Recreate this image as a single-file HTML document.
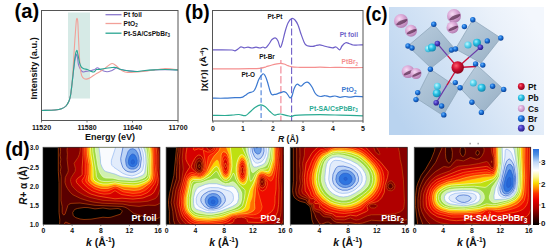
<!DOCTYPE html>
<html><head><meta charset="utf-8"><style>
html,body{margin:0;padding:0;background:#fff;width:550px;height:251px;overflow:hidden}
svg{display:block;font-family:"Liberation Sans",sans-serif}
</style></head><body>
<svg width="550" height="251" viewBox="0 0 550 251"><defs><clipPath id="hc0"><rect x="43" y="147.2" width="117" height="77.4"/></clipPath><clipPath id="hc1"><rect x="166.1" y="147.2" width="117.6" height="77.4"/></clipPath><clipPath id="hc2"><rect x="290.2" y="147.2" width="117.2" height="77.4"/></clipPath><clipPath id="hc3"><rect x="414.2" y="147.2" width="116.6" height="77.4"/></clipPath><linearGradient id="cb" x1="0" y1="1" x2="0" y2="0"><stop offset="0.000" stop-color="#000000"/><stop offset="0.097" stop-color="#460000"/><stop offset="0.221" stop-color="#aa0000"/><stop offset="0.331" stop-color="#e80000"/><stop offset="0.414" stop-color="#fc3200"/><stop offset="0.483" stop-color="#ff8c00"/><stop offset="0.552" stop-color="#fadc00"/><stop offset="0.635" stop-color="#fcf596"/><stop offset="0.718" stop-color="#ffffff"/><stop offset="0.829" stop-color="#bed7f8"/><stop offset="0.925" stop-color="#5091e4"/><stop offset="1.000" stop-color="#286edc"/></linearGradient></defs>
<text x="14.6" y="18.3" font-family="Liberation Sans, sans-serif" font-weight="bold" font-size="21" textLength="24.6" lengthAdjust="spacingAndGlyphs">(a)</text>
<rect x="68" y="12.5" width="22" height="86" fill="#d6eae6"/>
<path d="M41.5 110.5C43.8 110.4 51.7 110.3 55 110C58.3 109.7 59.7 109.5 61.5 108.8C63.3 108.1 64.8 107.3 66 106C67.2 104.7 68.2 102.8 69 101C69.8 99.2 70.1 97.8 70.6 95C71.1 92.2 71.5 88 72 84C72.5 80 73 75 73.5 71C74 67 74.5 62.8 75 60C75.5 57.2 76 54.6 76.4 54.3C76.8 54 77.1 56.2 77.5 58C77.9 59.8 78 63 78.6 65.1C79.2 67.2 80.5 69.4 81.2 70.5C81.9 71.6 82.2 71.8 83 71.9C83.8 72.1 84.4 71.6 85.7 71.4C87 71.2 89.5 70.8 91 70.5C92.5 70.2 93.6 70 94.7 69.6C95.8 69.1 96.4 67.7 97.4 67.8C98.5 67.9 99.4 69.3 101 70C102.6 70.7 105.2 71.7 107 71.8C108.8 71.9 110.4 71.1 112 70.5C113.6 69.9 115 68.2 116.5 68C118 67.8 119.1 69 121 69.5C122.9 70 124.8 70.5 128 70.8C131.2 71.1 136.3 71.6 140 71.5C143.7 71.4 146.7 70.6 150 70.3C153.3 70 156.7 69.9 160 69.8C163.3 69.7 167 69.8 170 69.8C173 69.8 176.7 70 178 70" fill="none" stroke="#8a78cc" stroke-width="1.1" stroke-linejoin="round"/>
<path d="M41.5 110.5C43.8 110.4 51.7 110.3 55 110C58.3 109.7 59.7 109.5 61.5 108.8C63.3 108.1 64.8 107.3 66 106C67.2 104.7 68.2 102.8 69 101C69.8 99.2 70.1 97.8 70.6 95C71.1 92.2 71.5 89.5 72 84C72.5 78.5 73 69.7 73.5 62C74 54.3 74.5 44.7 75 38C75.5 31.3 75.9 25.3 76.2 22C76.5 18.7 76.7 18.4 77 18.4C77.3 18.4 77.5 18.4 77.8 22C78.1 25.6 78.3 34 78.6 40C78.9 46 79.2 53.2 79.5 58C79.8 62.8 79.9 65.7 80.3 68.7C80.7 71.7 81.2 74.2 81.8 75.9C82.4 77.6 83.2 78.1 84 78.6C84.8 79.1 85.6 79.2 86.6 79.1C87.6 78.9 88.7 78.5 90.2 77.7C91.7 76.9 93.8 75.2 95.6 74.1C97.4 73 99.3 72.1 101 71C102.7 69.9 104.2 68.8 106 67.5C107.8 66.2 110.2 63.7 112 63.5C113.8 63.3 115.5 65.4 117 66.5C118.5 67.6 119.7 69.1 121 70C122.3 70.9 123.3 71.6 125 72C126.7 72.4 128.5 72.5 131 72.5C133.5 72.5 136.8 72.1 140 71.8C143.2 71.5 147 70.9 150 70.5C153 70.1 155.5 69.8 158 69.5C160.5 69.2 162.7 68.6 165 68.5C167.3 68.4 169.8 68.8 172 69C174.2 69.2 177 69.7 178 69.8" fill="none" stroke="#f2a098" stroke-width="1.1" stroke-linejoin="round"/>
<path d="M41.5 110.5C43.8 110.4 51.7 110.3 55 110C58.3 109.7 59.7 109.5 61.5 108.8C63.3 108.1 64.8 107.3 66 106C67.2 104.7 68.2 102.8 69 101C69.8 99.2 70.1 97.8 70.6 95C71.1 92.2 71.5 88.2 72 84C72.5 79.8 73 74.5 73.5 70C74 65.5 74.5 60.3 75 57C75.5 53.7 76.3 50.7 76.8 50.4C77.3 50.1 77.5 53 78 55C78.5 57 79 60.4 79.5 62.4C80 64.4 80.5 65.9 81.2 66.9C82 68 83 68.2 84 68.7C85 69.2 86.3 69.1 87.5 69.6C88.7 70 90 71 91 71.4C92 71.8 92.9 72.3 93.8 72C94.7 71.7 95.6 70 96.5 69.6C97.4 69.2 97.6 69.7 99 69.5C100.4 69.3 102.8 68.8 105 68.5C107.2 68.2 110.2 67.7 112 67.5C113.8 67.3 114.5 67.2 116 67.5C117.5 67.8 119 69 121 69.5C123 70 125.7 70.5 128 70.8C130.3 71.1 132.2 71.5 135 71.5C137.8 71.5 141.7 70.8 145 70.5C148.3 70.2 151.7 70 155 69.8C158.3 69.6 161.2 69.5 165 69.5C168.8 69.5 175.8 69.9 178 70" fill="none" stroke="#2aa592" stroke-width="1.1" stroke-linejoin="round"/>
<rect x="41.5" y="10.5" width="136.5" height="110" fill="none" stroke="#555" stroke-width="1"/>
<line x1="41.5" y1="120.5" x2="41.5" y2="122.5" stroke="#555" stroke-width="0.8"/>
<line x1="87" y1="120.5" x2="87" y2="122.5" stroke="#555" stroke-width="0.8"/>
<line x1="132.5" y1="120.5" x2="132.5" y2="122.5" stroke="#555" stroke-width="0.8"/>
<line x1="178" y1="120.5" x2="178" y2="122.5" stroke="#555" stroke-width="0.8"/>
<line x1="105.5" y1="14.7" x2="121.5" y2="14.7" stroke="#8a78cc" stroke-width="1.3"/>
<text x="123.5" y="17.099999999999998" font-family="Liberation Sans, sans-serif" font-weight="bold" font-size="6.6" fill="#111">Pt foil</text>
<line x1="105.5" y1="23.5" x2="121.5" y2="23.5" stroke="#f2a098" stroke-width="1.3"/>
<text x="123.5" y="25.9" font-family="Liberation Sans, sans-serif" font-weight="bold" font-size="6.6" fill="#111">PtO<tspan font-size="4.5" dy="1.5">2</tspan></text>
<line x1="105.5" y1="33.2" x2="121.5" y2="33.2" stroke="#2aa592" stroke-width="1.3"/>
<text x="123.5" y="35.6" font-family="Liberation Sans, sans-serif" font-weight="bold" font-size="6.6" fill="#111">Pt-SA/CsPbBr<tspan font-size="4.5" dy="1.5">3</tspan></text>
<text x="41.5" y="130.4" font-family="Liberation Sans, sans-serif" font-weight="bold" font-size="7" text-anchor="middle" fill="#111">11520</text>
<text x="87" y="130.4" font-family="Liberation Sans, sans-serif" font-weight="bold" font-size="7" text-anchor="middle" fill="#111">11580</text>
<text x="132.5" y="130.4" font-family="Liberation Sans, sans-serif" font-weight="bold" font-size="7" text-anchor="middle" fill="#111">11640</text>
<text x="178" y="130.4" font-family="Liberation Sans, sans-serif" font-weight="bold" font-size="7" text-anchor="middle" fill="#111">11700</text>
<text x="110" y="139.5" font-family="Liberation Sans, sans-serif" font-weight="bold" font-size="9" text-anchor="middle" fill="#111">Energy (eV)</text>
<text transform="translate(36.8 68.4) rotate(-90)" font-family="Liberation Sans, sans-serif" font-weight="bold" font-size="9.2" text-anchor="middle" fill="#111">Intensity (a.u.)</text>
<text x="185" y="18.9" font-family="Liberation Sans, sans-serif" font-weight="bold" font-size="21" textLength="24.6" lengthAdjust="spacingAndGlyphs">(b)</text>
<line x1="261.1" y1="67.4" x2="261.1" y2="121" stroke="#4a7fd8" stroke-width="1.1" stroke-dasharray="5 2.6"/>
<line x1="280.9" y1="60" x2="280.9" y2="121" stroke="#f08090" stroke-width="1.1" stroke-dasharray="3.7 2.5 7.4 2.5 7.4 2.5 7.4 2.5 7.4 2.5 7.4 2.5 7.4 2.5"/>
<line x1="291.6" y1="19" x2="291.6" y2="121" stroke="#7060c8" stroke-width="1.1" stroke-dasharray="7 2.6"/>
<path d="M212.5 49.8C214.1 49.8 218.8 49.8 222 49.8C225.2 49.8 229.8 49.8 232 50C234.2 50.2 234 51 235 50.8C236 50.6 237 49.7 238 49C239 48.3 239.9 47 240.9 46.8C241.9 46.6 242.8 47.7 244 47.8C245.2 47.9 246.7 47.2 248 47.2C249.3 47.2 250.7 48 252 48C253.3 48 254.7 47.2 256 47.2C257.3 47.2 258.8 48 260 48C261.2 48 262.1 47 263 47C263.9 47 264.7 48.3 265.7 47.8C266.7 47.3 267.9 45.4 269 44C270.1 42.6 270.9 40.5 272 39.5C273.1 38.5 274.3 37.6 275.3 37.9C276.3 38.1 277.2 39.4 278 41C278.8 42.6 279.6 47.2 280.3 47.4C281.1 47.6 281.7 44.6 282.5 42C283.3 39.4 284.1 35.2 285 32C285.9 28.8 286.9 25.2 288 23C289.1 20.8 290.4 19.1 291.6 18.6C292.8 18.1 293.9 18.9 295 20C296.1 21.1 297 22.7 298 25C299 27.3 300 31.2 301 34C302 36.8 303.2 40.2 304 42C304.8 43.8 305.2 44.3 306 45C306.8 45.7 307.8 46 309 46.2C310.2 46.4 311.8 46.5 313 46.4C314.2 46.3 314.9 45.8 316 45.5C317.1 45.2 318.5 44.7 319.8 44.8C321.1 44.9 322.6 45.6 324 46C325.4 46.4 326.6 46.7 328 47C329.4 47.3 331.4 47.8 332.7 47.8C334 47.8 334.8 46.7 336 47C337.2 47.3 338.7 50 339.7 49.8C340.7 49.6 341 47.2 342 46C343 44.8 344.5 43.2 345.7 42.8C346.9 42.4 347.8 43.1 349 43.5C350.2 43.9 351.5 44.8 353 45C354.5 45.2 356.3 45 358 45C359.7 45 362.2 44.8 363 44.8" fill="none" stroke="#6e5fc8" stroke-width="1.2" stroke-linejoin="round"/>
<path d="M212.5 68.9C215.4 68.9 223.8 68.9 230 68.9C236.2 68.9 245 68.8 250 68.7C255 68.6 257.1 68.6 259.8 68.3C262.5 68 264 67.3 266 66.8C268 66.2 270.2 65.5 272 65C273.8 64.5 275.6 64.1 277 63.8C278.4 63.5 279.5 63.3 280.7 63.3C281.9 63.3 282.8 63.6 284 64C285.2 64.4 286.7 65.1 288 65.6C289.3 66.1 290 66.6 292 66.9C294 67.2 297 67.2 300 67.3C303 67.4 306.7 67.4 310 67.4C313.3 67.4 316.7 67.2 320 67.2C323.3 67.2 326.7 67.5 330 67.5C333.3 67.5 336.7 67.4 340 67.4C343.3 67.4 346.2 67.6 350 67.6C353.8 67.6 360.8 67.5 363 67.5" fill="none" stroke="#f59090" stroke-width="1.2" stroke-linejoin="round"/>
<path d="M212.5 98.2C214.6 98.2 221.2 98.3 225 98.2C228.8 98.1 232.2 97.7 235 97.6C237.8 97.5 239.8 97.8 241.5 97.4C243.2 97.1 243.8 96.2 245 95.5C246.2 94.8 247.3 93.7 248.7 93C250.1 92.3 252.2 92.4 253.4 91.4C254.6 90.4 255.1 89.1 256 87C256.9 84.9 257.9 81.2 259 79C260.1 76.8 261.7 74.5 262.7 73.9C263.7 73.3 264.2 74.2 265 75.5C265.8 76.8 266.7 79.4 267.5 82C268.3 84.6 269.3 88.9 270 91C270.7 93.1 271.1 94 271.8 94.6C272.6 95.2 273.6 94.5 274.5 94.4C275.4 94.3 276.2 94.1 277.3 93.8C278.4 93.5 279.9 92.8 281 92.4C282.1 92.1 282.8 91.7 283.6 91.7C284.4 91.7 285.3 92 286 92.6C286.7 93.1 287.3 94.1 288 95C288.7 95.9 289.3 97.6 290 97.8C290.7 98 291.3 97.5 292 96C292.7 94.5 293.2 91 294 89C294.8 87 295.8 84.7 297 84.2C298.2 83.7 299.8 86.3 301 86.2C302.2 86.1 303 84.2 304 83.5C305 82.8 306.1 82.3 306.9 82.2C307.7 82.1 308.1 82.2 309 83C309.9 83.8 311 85.3 312 87C313 88.7 314 91.5 315 93C316 94.5 316.8 95.2 317.8 95.8C318.8 96.4 319.8 96.5 321 96.5C322.2 96.5 323.5 95.5 325 95.6C326.5 95.6 328.3 96.7 330 96.8C331.7 96.9 333.3 95.9 335 96C336.7 96.1 338.3 97.2 340 97.3C341.7 97.4 343.3 96.5 345 96.5C346.7 96.5 348.3 97.2 350 97.2C351.7 97.2 352.8 96.4 355 96.3C357.2 96.2 361.7 96.7 363 96.8" fill="none" stroke="#3a78d0" stroke-width="1.2" stroke-linejoin="round"/>
<path d="M212.5 115.3C214.6 115.3 221.6 115.5 225 115.5C228.4 115.5 230.7 115.2 233 115C235.3 114.8 236.9 114.4 239 114.5C241.1 114.6 243.7 116 245.5 115.6C247.3 115.2 248.4 113.3 250 112C251.6 110.7 253.2 108.7 255 107.5C256.8 106.3 258.9 105.1 260.6 104.9C262.3 104.7 263.4 105.4 265 106.5C266.6 107.6 268.5 110.1 270 111.5C271.5 112.9 273 114.5 274.2 115C275.4 115.5 275.9 114.7 277 114.5C278.1 114.3 279.2 113.9 280.5 114C281.8 114.1 283.6 114.9 285 115.2C286.4 115.5 287.9 115.8 289 116C290.1 116.2 290.5 116.6 291.5 116.5C292.5 116.4 292.8 115.6 295 115.3C297.2 115 300.8 114.9 305 114.8C309.2 114.7 315 114.6 320 114.6C325 114.6 330 114.9 335 115C340 115.1 345.3 115.3 350 115.4C354.7 115.5 360.8 115.7 363 115.8" fill="none" stroke="#2aaa92" stroke-width="1.2" stroke-linejoin="round"/>
<rect x="212.5" y="10.5" width="150.5" height="110.5" fill="none" stroke="#555" stroke-width="1"/>
<line x1="213" y1="121" x2="213" y2="123" stroke="#555" stroke-width="0.8"/>
<text x="213" y="131" font-family="Liberation Sans, sans-serif" font-weight="bold" font-size="7" text-anchor="middle" fill="#111">0</text>
<line x1="243" y1="121" x2="243" y2="123" stroke="#555" stroke-width="0.8"/>
<text x="243" y="131" font-family="Liberation Sans, sans-serif" font-weight="bold" font-size="7" text-anchor="middle" fill="#111">1</text>
<line x1="273" y1="121" x2="273" y2="123" stroke="#555" stroke-width="0.8"/>
<text x="273" y="131" font-family="Liberation Sans, sans-serif" font-weight="bold" font-size="7" text-anchor="middle" fill="#111">2</text>
<line x1="303" y1="121" x2="303" y2="123" stroke="#555" stroke-width="0.8"/>
<text x="303" y="131" font-family="Liberation Sans, sans-serif" font-weight="bold" font-size="7" text-anchor="middle" fill="#111">3</text>
<line x1="333" y1="121" x2="333" y2="123" stroke="#555" stroke-width="0.8"/>
<text x="333" y="131" font-family="Liberation Sans, sans-serif" font-weight="bold" font-size="7" text-anchor="middle" fill="#111">4</text>
<line x1="363" y1="121" x2="363" y2="123" stroke="#555" stroke-width="0.8"/>
<text x="363" y="131" font-family="Liberation Sans, sans-serif" font-weight="bold" font-size="7" text-anchor="middle" fill="#111">5</text>
<text x="288.3" y="142.4" font-family="Liberation Sans, sans-serif" font-weight="bold" font-size="8.6" text-anchor="middle" fill="#111"><tspan font-style="italic">R</tspan> (Å)</text>
<text transform="translate(206.1 69.2) rotate(-90)" font-family="Liberation Sans, sans-serif" font-weight="bold" font-size="8" text-anchor="middle" fill="#111" textLength="44" lengthAdjust="spacingAndGlyphs">|χ(r)| (Å<tspan font-size="5" dy="-2.5">-4</tspan><tspan dy="2.5">)</tspan></text>
<text x="267.4" y="18.6" font-family="Liberation Sans, sans-serif" font-weight="bold" font-size="6.4" fill="#111">Pt-Pt</text>
<text x="259.2" y="58.5" font-family="Liberation Sans, sans-serif" font-weight="bold" font-size="6.4" fill="#111">Pt-Br</text>
<text x="241.5" y="76.9" font-family="Liberation Sans, sans-serif" font-weight="bold" font-size="6.4" fill="#111">Pt-O</text>
<text x="358" y="37.3" font-family="Liberation Sans, sans-serif" font-weight="bold" font-size="6.6" text-anchor="end" fill="#6e5fc8">Pt foil</text>
<text x="358" y="64" font-family="Liberation Sans, sans-serif" font-weight="bold" font-size="6.6" text-anchor="end" fill="#f59090">PtBr<tspan font-size="4.5" dy="1.5">2</tspan></text>
<text x="356.4" y="92.3" font-family="Liberation Sans, sans-serif" font-weight="bold" font-size="6.9" text-anchor="end" fill="#3a78d0">PtO<tspan font-size="4.5" dy="1.5">2</tspan></text>
<text x="357.8" y="110.8" font-family="Liberation Sans, sans-serif" font-weight="bold" font-size="6.9" text-anchor="end" fill="#2aaa92">Pt-SA/CsPbBr<tspan font-size="4.5" dy="1.5">3</tspan></text>
<text x="365.6" y="21" font-family="Liberation Sans, sans-serif" font-weight="bold" font-size="21" textLength="21.8" lengthAdjust="spacingAndGlyphs">(c)</text>
<g><defs>
<linearGradient id="cbg" x1="0" y1="0.75" x2="1" y2="0.25"><stop offset="0" stop-color="#b9d3ef"/><stop offset="0.45" stop-color="#d3e3f5"/><stop offset="0.8" stop-color="#eaf1fa"/><stop offset="1" stop-color="#f3f7fd"/></linearGradient>
<radialGradient id="gbr" cx="0.38" cy="0.35" r="0.7"><stop offset="0" stop-color="#6ab4ff"/><stop offset="0.45" stop-color="#1a72d8"/><stop offset="1" stop-color="#0a3c90"/></radialGradient>
<radialGradient id="gpb" cx="0.38" cy="0.35" r="0.7"><stop offset="0" stop-color="#a0f0ff"/><stop offset="0.45" stop-color="#28c0e4"/><stop offset="1" stop-color="#1080a8"/></radialGradient>
<radialGradient id="gpbl" cx="0.38" cy="0.35" r="0.7"><stop offset="0" stop-color="#c8f8ff"/><stop offset="0.45" stop-color="#60d8f0"/><stop offset="1" stop-color="#30a8cc"/></radialGradient>
<radialGradient id="gcs" cx="0.38" cy="0.35" r="0.7"><stop offset="0" stop-color="#f6dcf4"/><stop offset="0.45" stop-color="#dcaad8"/><stop offset="1" stop-color="#b07ab0"/></radialGradient>
<radialGradient id="go" cx="0.38" cy="0.35" r="0.7"><stop offset="0" stop-color="#8a80f0"/><stop offset="0.45" stop-color="#4a3cc0"/><stop offset="1" stop-color="#241880"/></radialGradient>
<radialGradient id="gpt" cx="0.38" cy="0.35" r="0.7"><stop offset="0" stop-color="#ff6070"/><stop offset="0.45" stop-color="#d01030"/><stop offset="1" stop-color="#800018"/></radialGradient>
<linearGradient id="goct" x1="0" y1="0" x2="1" y2="1"><stop offset="0" stop-color="#b4c8d8"/><stop offset="0.55" stop-color="#9cb4c8"/><stop offset="1" stop-color="#849eb4"/></linearGradient>
<linearGradient id="gbond" x1="0" y1="0" x2="1" y2="0"><stop offset="0" stop-color="#5040b0"/><stop offset="1" stop-color="#c01838"/></linearGradient>
</defs>
<rect x="389" y="7" width="155" height="128" fill="url(#cbg)"/>
<circle cx="401" cy="21" r="7" fill="url(#gcs)"/>
<ellipse cx="401.3" cy="22.4" rx="6.16" ry="1.68" fill="#3a1030" opacity="0.6" transform="rotate(-25 401 21)"/>
<circle cx="411" cy="30.7" r="6" fill="url(#gcs)"/>
<ellipse cx="411.3" cy="31.9" rx="5.28" ry="1.44" fill="#3a1030" opacity="0.6" transform="rotate(-25 411 30.7)"/>
<circle cx="454" cy="16" r="7" fill="url(#gcs)"/>
<ellipse cx="454.3" cy="17.4" rx="6.16" ry="1.68" fill="#3a1030" opacity="0.6" transform="rotate(-25 454 16)"/>
<circle cx="452.5" cy="27.4" r="6" fill="url(#gcs)"/>
<ellipse cx="452.8" cy="28.599999999999998" rx="5.28" ry="1.44" fill="#3a1030" opacity="0.6" transform="rotate(-25 452.5 27.4)"/>
<circle cx="408" cy="71.6" r="6.4" fill="url(#gcs)"/>
<ellipse cx="408.3" cy="72.88" rx="5.632000000000001" ry="1.536" fill="#3a1030" opacity="0.6" transform="rotate(-25 408 71.6)"/>
<circle cx="416" cy="73.5" r="5.5" fill="url(#gcs)"/>
<ellipse cx="416.3" cy="74.6" rx="4.84" ry="1.3199999999999998" fill="#3a1030" opacity="0.6" transform="rotate(-25 416 73.5)"/>
<path d="M433.6 24.3 L455 49 L431 68 L408 46Z" fill="url(#goct)" fill-opacity="0.8" stroke="#8aa2b6" stroke-width="1" stroke-opacity="0.7" stroke-linejoin="round"/>
<path d="M472.8 19.7 L500.8 38 L481 63 L455.5 49Z" fill="url(#goct)" fill-opacity="0.8" stroke="#8aa2b6" stroke-width="1" stroke-opacity="0.7" stroke-linejoin="round"/>
<path d="M430.4 69.3 L459 88.5 L443 115.5 L416 98Z" fill="url(#goct)" fill-opacity="0.8" stroke="#8aa2b6" stroke-width="1" stroke-opacity="0.7" stroke-linejoin="round"/>
<path d="M476.7 65 L503.7 89.4 L483 112.4 L460.7 88.5Z" fill="url(#goct)" fill-opacity="0.8" stroke="#8aa2b6" stroke-width="1" stroke-opacity="0.7" stroke-linejoin="round"/>
<circle cx="468" cy="45" r="3.6" fill="url(#gpbl)"/>
<circle cx="477" cy="42.7" r="4" fill="url(#gpb)"/>
<circle cx="428.2" cy="48.8" r="3.4" fill="url(#gpbl)"/>
<circle cx="432" cy="47.6" r="4" fill="url(#gpb)"/>
<circle cx="437.4" cy="86.2" r="3.5" fill="url(#gpbl)"/>
<circle cx="436.8" cy="93.2" r="4" fill="url(#gpb)"/>
<circle cx="473.3" cy="83" r="3.5" fill="url(#gpbl)"/>
<circle cx="481.6" cy="87.8" r="4" fill="url(#gpb)"/>
<line x1="457.7" y1="67.5" x2="447.54999999999995" y2="55.55" stroke="#c8103a" stroke-width="1.3"/>
<line x1="447.54999999999995" y1="55.55" x2="437.4" y2="43.6" stroke="#6a3aa8" stroke-width="1.2"/>
<line x1="457.7" y1="67.5" x2="469.04999999999995" y2="57.35" stroke="#c8103a" stroke-width="1.3"/>
<line x1="469.04999999999995" y1="57.35" x2="480.4" y2="47.2" stroke="#6a3aa8" stroke-width="1.2"/>
<line x1="457.7" y1="67.5" x2="446.95" y2="85.15" stroke="#c8103a" stroke-width="1.3"/>
<line x1="446.95" y1="85.15" x2="436.2" y2="102.8" stroke="#6a3aa8" stroke-width="1.2"/>
<line x1="457.7" y1="67.5" x2="476" y2="66.5" stroke="#c8103a" stroke-width="1.3"/>
<circle cx="437.4" cy="43.6" r="2.8" fill="url(#go)"/>
<circle cx="480.4" cy="47.2" r="2.8" fill="url(#go)"/>
<circle cx="436.2" cy="102.8" r="2.8" fill="url(#go)"/>
<circle cx="433.8" cy="24.3" r="2.7" fill="url(#gbr)"/>
<circle cx="408" cy="46" r="2.7" fill="url(#gbr)"/>
<circle cx="412" cy="48" r="2.7" fill="url(#gbr)"/>
<circle cx="451.5" cy="50" r="2.7" fill="url(#gbr)"/>
<circle cx="455.5" cy="49" r="2.7" fill="url(#gbr)"/>
<circle cx="472.8" cy="19.7" r="2.7" fill="url(#gbr)"/>
<circle cx="464.4" cy="26.6" r="2.7" fill="url(#gbr)"/>
<circle cx="500.8" cy="38" r="2.7" fill="url(#gbr)"/>
<circle cx="487.3" cy="40.9" r="2.7" fill="url(#gbr)"/>
<circle cx="475.6" cy="63.9" r="2.7" fill="url(#gbr)"/>
<circle cx="482.8" cy="65.1" r="2.7" fill="url(#gbr)"/>
<circle cx="430.4" cy="69.3" r="2.7" fill="url(#gbr)"/>
<circle cx="417.7" cy="92.6" r="2.7" fill="url(#gbr)"/>
<circle cx="416" cy="99.6" r="2.7" fill="url(#gbr)"/>
<circle cx="443.8" cy="114.9" r="2.7" fill="url(#gbr)"/>
<circle cx="455.3" cy="82.6" r="2.7" fill="url(#gbr)"/>
<circle cx="460.1" cy="87.8" r="2.7" fill="url(#gbr)"/>
<circle cx="441.6" cy="106" r="2.7" fill="url(#gbr)"/>
<circle cx="503.7" cy="89.4" r="2.7" fill="url(#gbr)"/>
<circle cx="492.6" cy="86.2" r="2.7" fill="url(#gbr)"/>
<circle cx="481.4" cy="112.4" r="2.7" fill="url(#gbr)"/>
<circle cx="471.9" cy="102.2" r="2.7" fill="url(#gbr)"/>
<circle cx="457.7" cy="67.5" r="6.2" fill="url(#gpt)"/>
<circle cx="521.3" cy="86.5" r="3.4" fill="url(#gpt)"/>
<text x="528" y="89.5" font-family="Liberation Sans, sans-serif" font-weight="bold" font-size="8.4" fill="#111">Pt</text>
<circle cx="521.3" cy="97.8" r="3.4" fill="url(#gpb)"/>
<text x="528" y="100.8" font-family="Liberation Sans, sans-serif" font-weight="bold" font-size="8.4" fill="#111">Pb</text>
<circle cx="521.3" cy="108.5" r="3.4" fill="url(#gcs)"/>
<text x="528" y="111.5" font-family="Liberation Sans, sans-serif" font-weight="bold" font-size="8.4" fill="#111">Cs</text>
<circle cx="521.3" cy="118.6" r="3.4" fill="url(#gbr)"/>
<text x="528" y="121.6" font-family="Liberation Sans, sans-serif" font-weight="bold" font-size="8.4" fill="#111">Br</text>
<circle cx="521.3" cy="128.2" r="3.4" fill="url(#go)"/>
<text x="528" y="131.2" font-family="Liberation Sans, sans-serif" font-weight="bold" font-size="8.4" fill="#111">O</text></g>
<text x="5.2" y="156" font-family="Liberation Sans, sans-serif" font-weight="bold" font-size="21" textLength="24.6" lengthAdjust="spacingAndGlyphs">(d)</text>
<g clip-path="url(#hc0)">
<rect x="43" y="147.2" width="117" height="77.4" fill="#000000"/>
<path fill-rule="evenodd" fill="#300000" d="M58.3 147.2L160 147.2 160 224.6 59.6 224.6 59.8 219.6 59 212.5 59 182.4 58.3 171.3 58.3 147.2ZM84 207.5L77.2 208.5 74.6 209.5 73.6 210.5 72.7 212.5 72.7 214.5 73.2 215.6 75.7 217.6 80 219 84 219.5 91 219.2 103 217.2 108 217.6 111 217.2 120 214.3 121.1 213.5 122.1 211.5 121.9 210.5 121 209.5 118 208.5 110 209.1 103 208 95 208.9 88 207.6 84 207.5Z"/>
<path fill-rule="evenodd" fill="#5b0000" d="M60.3 147.2L160 147.2 160 217.2 157 218.7 154 219 134 213.6 133 213.1 130.6 210.5 127.6 208.5 125 207.2 122 206.5 95 205.3 80 203 71 203.4 69 204.2 67.9 205.5 66.8 209.5 65 214.2 64 215 63 214.5 62.2 212.5 62.2 206.5 61 200.5 61.2 176.4 60.3 171.3 61 167.3 60.3 163.3 60.8 159.3 60.1 155.2 60.6 151.2 60.3 147.2ZM64.9 222.6L66 222.1 71.2 224.6 64.1 224.6 64.9 222.6Z"/>
<path fill-rule="evenodd" fill="#850000" d="M67.4 147.2L160 147.2 160 203.2 157 204.8 155 205.4 148 205.2 139 206.4 129 205.4 123 204.1 102 203.2 93 202 88 200.8 80.6 198.5 73 194.8 70.3 192.4 67.4 188.4 66 185.7 65 182.4 64.9 179.4 65.3 177.4 67.9 172.3 68.3 170.3 67.1 159.3 67.4 154.2 67 150.2 67.4 147.2Z"/>
<path fill-rule="evenodd" fill="#b00000" d="M80.2 147.2L157.6 147.2 158.9 155.2 158.9 167.3 160 175.2 160 189.2 158.7 193.4 157.3 196.5 156 197.9 154 199.2 148 201.2 139 202.1 130 202.2 123 201.4 117 201.4 104 200.5 100 199.9 87 196.5 78 191.8 76 190.2 72.5 186.4 71 183.4 70.5 180.4 71.3 177.4 75.2 171.3 75.4 168.3 74.1 163.3 74.4 162.3 78 157.5 79.4 154.2 80.2 150.2 80.2 147.2Z"/>
<path fill-rule="evenodd" fill="#d50000" d="M83 147.2L156.2 147.2 156.9 155.2 156.7 163.3 156.9 170.3 158 176.4 158.2 180.4 157.3 185.4 153.9 192.4 151 194.8 144 197.8 140 198.5 133 199.1 122 198.2 115 198.8 110 197.8 103 197.2 91 194.1 87.7 192.4 82 188.3 77.1 183.4 76.2 181.4 76.2 180.4 77 178.9 81.7 175.3 82.2 174.3 82.1 168.3 83 155.2 83 147.2Z"/>
<path fill-rule="evenodd" fill="#ef0c00" d="M84.4 147.2L155 147.2 155.3 158.3 155 163.3 155.4 171.3 156.2 177.4 156 180.4 154.9 183.4 150 190.4 148 192.2 143 194.8 137 195.9 131 196.1 123 194.8 120 193.8 116 190.9 115 190.6 110 193.6 105 194.1 98 193 92 190.8 87 187.2 83.1 183.4 82 181.4 82.4 179.4 84.5 176.4 85.1 174.3 85.2 163.3 84.4 147.2Z"/>
<path fill-rule="evenodd" fill="#fb2d00" d="M85.7 147.2L153.5 147.2 153.8 167.3 154.5 176.4 154.2 179.4 153.5 181.4 151.4 184.4 146 189.8 141 192.4 137 193.2 132 193.4 124 192.1 121 191 116.9 188.4 115 187.9 113.2 188.4 109 190.7 105 191.2 99 190.5 94 188.6 88 184.3 86.3 182.4 85.6 180.4 87.1 174.3 87.2 164.3 86.1 155.2 85.7 147.2Z"/>
<path fill-rule="evenodd" fill="#ff7100" d="M87 147.2L152 147.2 152.5 153.2 152.5 167.3 153 175.3 152.7 178.4 151.9 180.4 150 183 144 187.6 140 189.6 136 190.3 131 190.3 124 189.4 117 186.4 115 186.1 113 186.5 109 188.2 105 188.7 100 188.2 95 186.4 90.5 183.4 88.4 180.4 89 174.3 89.1 164.3 87.5 155.2 87 147.2Z"/>
<path fill-rule="evenodd" fill="#fbd600" d="M88.6 147.2L150.8 147.2 151.5 155.2 151.2 167.3 151.5 174.3 151.3 177.4 150.6 179.4 149 181.6 145 184.2 140 186.6 136 187.5 124 186.8 115 184.4 108 186.2 103 186.3 99 185.5 95 183.9 92 181.6 90.8 179.4 90.9 165.3 90.4 161.3 89.1 155.2 88.6 147.2Z"/>
<path fill-rule="evenodd" fill="#bee011" d="M90.5 147.2L149.5 147.2 150.2 155.2 150 174.3 149.8 176.4 149 178.8 147.8 180.4 145 182.1 140 184 136 184.9 124 184.4 115 182.8 113 182.9 108 184 103 184 100 183.5 97 182.3 94.2 180.4 93.2 178.4 93 167.3 92.1 160.3 90.9 154.2 90.5 147.2Z"/>
<path fill-rule="evenodd" fill="#9dd93f" d="M92.7 147.2L147.9 147.2 148.8 160.3 148.4 174.3 147.7 177.4 146 179.3 144 180.4 139 182 135 182.6 122 182.1 114 180.9 105 181.6 102 181.3 99.4 180.4 97.2 178.4 96.4 176.4 96 171.3 92.9 152.2 92.7 147.2Z"/>
<path fill-rule="evenodd" fill="#d0f0b0" d="M95.4 147.2L145.9 147.2 147 153.2 147.4 161.3 146.7 173.3 146 176 144.7 177.4 142 178.7 137 180 133 180.5 119 179.7 113 178.2 106 178 103 177 100 173.2 98.3 168.3 95.4 150.2 95.4 147.2Z"/>
<path fill-rule="evenodd" fill="#f9fbfe" d="M98.9 148.2L99 147.2 143.5 147.2 145.5 154.2 146 162.3 145 171.3 144 174 142 175.6 138 177.2 134 178.2 131 178.3 122 176.9 115 174.1 105 171.2 103 169 100.8 164.3 100.3 157.3 98.9 148.2Z"/>
<path fill-rule="evenodd" fill="#e2ecfb" d="M115.7 147.2L141.2 147.2 143.3 154.2 144 162.3 142.8 169.3 141.8 171.3 139 173.3 135 175.2 132 175.9 130 175.7 126 174.7 122.7 173.3 113 166.6 111.5 164.3 111.3 161.3 111.9 158.3 115.7 147.2Z"/>
<path fill-rule="evenodd" fill="#bfd5f6" d="M122.7 148.2L123 147.2 138.3 147.2 140.3 152.2 141.4 159.3 140.2 167.3 139 169.2 137 170.8 134 172 129 172 126 170.8 123.4 168.3 121.7 164.3 120.7 159.3 122.7 148.2Z"/>
<path fill-rule="evenodd" fill="#6ea0e8" d="M130.1 149.2L133 148.7 135.9 150.2 137.7 153.2 138.9 157.3 139.2 161.3 138.4 165.3 137 167.6 134 169.1 131 169.1 128.7 168.3 127 166.6 126.1 164.3 125.6 160.3 125.9 158.3 128 151.7 129 150.1 130.1 149.2Z"/>
<path fill-rule="evenodd" fill="#2f75e0" d="M131.7 154.2L133 153.9 135 155.1 136.3 157.3 137.2 160.3 137.1 163.3 136 165.3 134.8 166.3 133 166.9 131 166.6 130 165.9 128.8 164.3 128.3 162.3 128.4 160.3 129 158 130 156 131.7 154.2Z"/>
<path fill-rule="evenodd" fill="#2467d7" d="M131.7 160.3L133 159.6 134 160.2 134.5 161.3 134.3 163.3 133 164.2 132 164.1 131.2 163.3 131 161.9 131.7 160.3Z"/>
<path fill="none" stroke="#c8500a" stroke-width="0.7" stroke-opacity="0.9" d="M84 207.5L77.2 208.5 74.6 209.5 72.7 212.5 73.2 215.6 75.7 217.6 80 219 84 219.5 91 219.2 103 217.2 108 217.6 111 217.2 120 214.3 121.1 213.5 122.1 211.5 121.9 210.5 121 209.5 118 208.5 110 209.1 103 208 95 208.9 88 207.6 84 207.5M59.6 224.6L59.8 219.6 59 212.5 59 182.4 58.3 171.3 58.3 147.2"/>
<path fill="none" stroke="#c8500a" stroke-width="0.7" stroke-opacity="0.9" d="M160 217.2L157 218.7 154 219 134 213.6 127.6 208.5 125 207.2 122 206.5 95 205.3 80 203 71 203.4 69 204.2 67.9 205.5 65 214.2 64 215 63 214.5 62.2 212.5 62.2 206.5 61 200.5 61.2 176.4 60.3 171.3 61 167.3 60.3 163.3 60.8 159.3 60.1 155.2 60.6 151.2 60.3 147.2M64.1 224.6L65 222.4 66 222.1 71.2 224.6"/>
<path fill="none" stroke="#c8500a" stroke-width="0.7" stroke-opacity="0.9" d="M160 203.2L157 204.8 155 205.4 148 205.2 139 206.4 129 205.4 123 204.1 102 203.2 93 202 88 200.8 80.6 198.5 73 194.8 70.3 192.4 67.4 188.4 66 185.7 65 182.4 65.3 177.4 67.9 172.3 68.3 170.3 67.1 159.3 67.4 154.2 67 150.2 67.4 147.2"/>
<path fill="none" stroke="#c8500a" stroke-width="0.7" stroke-opacity="0.9" d="M157.6 147.2L158.8 154.2 158.9 167.3 160 175.2M160 189.2L157.9 195.4 156.5 197.5 155 198.7 148 201.2 140 202 130 202.2 123 201.4 103 200.4 90 197.5 84 195.2 77.5 191.4 74 188.2 71.8 185.4 70.6 181.4 70.6 179.4 71.3 177.4 75.2 171.3 75.4 168.3 74.1 163.3 78 157.5 79.4 154.2 80.2 150.2 80.2 147.2"/>
<path fill="none" stroke="#ff7d19" stroke-width="0.7" stroke-opacity="0.9" d="M156.2 147.2L156.9 155.2 156.9 170.3 158.2 179.4 157.9 183.4 156.8 186.4 153.9 192.4 151 194.8 143 198 133 199.1 122 198.2 115 198.8 98 196.1 91 194.1 88 192.6 83 189.2 78.1 184.4 76.5 182.4 76.2 180.4 77.5 178.4 81.7 175.3 82.2 174.3 82.1 168.3 83 155.2 83 147.2"/>
<path fill="none" stroke="#ff7d19" stroke-width="0.7" stroke-opacity="0.9" d="M155 147.2L155 163.3 156.2 177.4 156 180.4 155 183.3 150 190.4 147 192.9 141 195.4 133 196.2 122 194.6 120 193.8 115 190.6 111 193.2 109 193.8 104 194.1 99 193.2 92 190.8 88 188.1 84.1 184.4 82.4 182.4 82 180.4 84.5 176.4 85.1 174.3 85.2 163.3 84.4 147.2"/>
<path fill="none" stroke="#ff7d19" stroke-width="0.7" stroke-opacity="0.9" d="M153.5 147.2L153.8 167.3 154.5 176.4 153.5 181.4 152 183.7 148 188 145 190.5 140 192.7 133 193.5 123 191.8 116.9 188.4 115 187.9 108 190.9 104 191.2 100 190.7 94 188.6 88 184.3 86.3 182.4 85.6 180.4 87.1 174.3 87.2 164.3 86.1 155.2 85.7 147.2"/>
<path fill="none" stroke="#ffcd32" stroke-width="0.7" stroke-opacity="0.9" d="M152 147.2L153 175.3 152.3 179.4 150 183 143 188.2 139 189.9 134 190.4 124 189.4 117 186.4 115 186.1 108 188.4 101 188.4 95 186.4 90.5 183.4 88.8 181.4 88.3 179.4 89 174.3 89.1 164.3 87.5 155.2 87 147.2"/>
<path fill="none" stroke="#ffcd32" stroke-width="0.7" stroke-opacity="0.9" d="M150.8 147.2L151.5 155.2 151.5 174.3 150.6 179.4 148 182.4 142 185.7 138 187.2 134 187.5 124 186.8 115 184.4 108 186.2 102 186.2 97 184.8 92.7 182.4 90.8 179.4 90.9 165.3 89.1 155.2 88.6 147.2"/>
<path fill="none" stroke="#f5ffd2" stroke-width="0.7" stroke-opacity="0.9" d="M149.5 147.2L150.2 155.2 150 174.3 149.2 178.4 147.8 180.4 144 182.5 138 184.6 134 185 123 184.3 115 182.8 108 184 103 184 99 183.1 95 181.1 93.6 179.4 93.1 177.4 93 167.3 90.9 154.2 90.5 147.2"/>
<path fill="none" stroke="#f5ffd2" stroke-width="0.7" stroke-opacity="0.9" d="M147.9 147.2L148.8 159.3 148.4 174.3 148 176.7 147 178.4 144 180.4 138 182.2 133 182.7 121 182 114 180.9 108 181.6 104 181.5 101 181 98 179.4 96.4 176.4 96 171.3 92.9 152.2 92.7 147.2"/>
<path fill="none" stroke="#f5ffd2" stroke-width="0.7" stroke-opacity="0.9" d="M145.9 147.2L147 153.1 147.4 160.3 146.3 175.3 145 177.1 142 178.7 137 180 132 180.5 119 179.7 113 178.2 106 178 104 177.5 102.3 176.4 99.6 172.3 98 167.2 95.4 150.2 95.4 147.2"/>
<path fill="none" stroke="#8cb4f0" stroke-width="0.7" stroke-opacity="0.9" d="M143.5 147.2L145 151.8 145.7 156.2 146 163.3 144.8 172.3 143.7 174.3 142 175.6 137 177.5 132 178.3 121 176.6 115 174.1 106 171.6 104 170.4 102 167.1 100.6 163.3 100.4 158.3 99 147.2"/>
<path fill="none" stroke="#8cb4f0" stroke-width="0.7" stroke-opacity="0.9" d="M141.2 147.2L142.9 152.2 143.7 157.3 144 163.3 142.8 169.3 141.8 171.3 140 172.8 136 174.8 132 175.9 127 175 122.7 173.3 113.9 167.3 111.9 165.3 111.3 163.3 111.4 160.3 115.7 147.2"/>
<path fill="none" stroke="#285ac8" stroke-width="0.7" stroke-opacity="0.9" d="M138.3 147.2L140 151.2 141.4 158.3 140.2 167.3 138.9 169.3 136 171.3 134 172 131 172.2 128 171.7 125 170.1 122.8 167.3 121.7 164.3 120.9 161.3 120.7 158.3 123 147.2"/>
<path fill="none" stroke="#285ac8" stroke-width="0.7" stroke-opacity="0.9" d="M130.1 149.2L133 148.7 135.9 150.2 137.7 153.2 138.9 157.3 139.2 161.3 138.4 165.3 137 167.6 134 169.1 131 169.1 128.7 168.3 127 166.6 126.1 164.3 125.6 160.3 125.9 158.3 128 151.7 130.1 149.2"/>
<path fill="none" stroke="#285ac8" stroke-width="0.7" stroke-opacity="0.9" d="M131.7 154.2L133 153.9 135 155.1 136.3 157.3 137.2 160.3 137.1 163.3 136 165.3 134.8 166.3 133 166.9 130 165.9 128.8 164.3 128.3 162.3 129 158 130 156 131.7 154.2"/>
<path fill="none" stroke="#285ac8" stroke-width="0.7" stroke-opacity="0.9" d="M131.7 160.3L133 159.6 134 160.2 134.5 161.3 134.3 163.3 133 164.2 132 164.1 131.2 163.3 131 161.9 131.7 160.3"/>
</g>
<rect x="43" y="147.2" width="117" height="77.4" fill="none" stroke="#333" stroke-width="0.6"/>
<text x="156.5" y="221.3" font-family="Liberation Sans, sans-serif" font-weight="bold" font-size="9" text-anchor="end" fill="#fff">Pt foil</text>
<text x="43.5" y="233.3" font-family="Liberation Sans, sans-serif" font-weight="bold" font-size="6.8" text-anchor="middle" fill="#111">0</text>
<line x1="43.5" y1="224.6" x2="43.5" y2="226.1" stroke="#444" stroke-width="0.6"/>
<text x="72.1" y="233.3" font-family="Liberation Sans, sans-serif" font-weight="bold" font-size="6.8" text-anchor="middle" fill="#111">4</text>
<line x1="72.1" y1="224.6" x2="72.1" y2="226.1" stroke="#444" stroke-width="0.6"/>
<text x="100.8" y="233.3" font-family="Liberation Sans, sans-serif" font-weight="bold" font-size="6.8" text-anchor="middle" fill="#111">8</text>
<line x1="100.8" y1="224.6" x2="100.8" y2="226.1" stroke="#444" stroke-width="0.6"/>
<text x="129.4" y="233.3" font-family="Liberation Sans, sans-serif" font-weight="bold" font-size="6.8" text-anchor="middle" fill="#111">12</text>
<line x1="129.4" y1="224.6" x2="129.4" y2="226.1" stroke="#444" stroke-width="0.6"/>
<text x="158.0" y="233.3" font-family="Liberation Sans, sans-serif" font-weight="bold" font-size="6.8" text-anchor="middle" fill="#111">16</text>
<line x1="158.0" y1="224.6" x2="158.0" y2="226.1" stroke="#444" stroke-width="0.6"/>
<text x="100.5" y="245.6" font-family="Liberation Sans, sans-serif" font-weight="bold" font-size="10.5" text-anchor="middle" fill="#111"><tspan font-style="italic">k</tspan> (Å<tspan font-size="6.5" dy="-3.5">-1</tspan><tspan dy="3.5">)</tspan></text>
<g clip-path="url(#hc1)">
<rect x="166.1" y="147.2" width="117.6" height="77.4" fill="#000000"/>
<path fill-rule="evenodd" fill="#300000" d="M176.6 147.2L283.7 147.2 283.7 224.6 170 224.6 169.3 220.6 169.4 211.5 168.5 204.5 168.5 200.5 169.6 193.4 173.9 175.3 174.5 166.3 175.3 161.3 176.6 147.2Z"/>
<path fill-rule="evenodd" fill="#5b0000" d="M177.9 147.2L283.7 147.2 283.7 224.6 175 224.6 173.6 220.6 172.8 211.5 171.1 202.5 173.1 189.4 176.5 178.4 176.4 171.3 177.1 164.3 176.9 159.3 178.1 151.2 177.9 147.2ZM199.3 164.4L198.5 165.3 198.3 166.3 199.3 167.9 200.2 166.3 199.3 164.4Z"/>
<path fill-rule="evenodd" fill="#850000" d="M180.1 147.2L283.7 147.2 283.7 219.3 282.7 222.1 281.1 224.6 181 224.6 178.5 221.6 177.2 218.6 173.8 202.5 175.9 189.4 179 181.4 179.4 179.4 179.7 165.3 179.1 159.3 180 153.2 180.1 147.2ZM198.3 161.2L197.3 162.4 196.5 164.3 196.4 167.3 197.3 169.4 198.3 170.4 199.3 170.7 200.3 170.4 201.3 169.2 201.8 167.3 201.9 165.3 201.3 162.7 200.3 161.3 199.3 160.9 198.3 161.2ZM261.6 181.1L261.6 182.4 262.6 182.4 262.6 181.1 261.6 181.1Z"/>
<path fill-rule="evenodd" fill="#b00000" d="M183 148.2L183.2 147.2 209.2 147.2 210.3 148.2 211.6 147.2 281.1 147.2 281.4 166.3 281.1 181.4 281.6 190.4 281.4 206.5 280.5 215.6 279.7 218 278.2 220.6 276.3 222.6 273.2 224.6 186.7 224.6 185.3 223.6 182.3 220.6 180.2 216.9 177.7 208.5 176.8 203.5 178.2 191.4 181.5 181.4 183.3 169.3 183.3 166.3 182.2 158.3 183 148.2ZM199.3 158.1L197.3 159.1 196.3 160.4 195 163.3 194.6 166.3 195 168.3 196 170.3 197.3 171.6 199.3 172.3 201.3 171.4 202.1 170.3 203.1 166.3 202.3 161.1 201.3 159.3 200.3 158.4 199.3 158.1ZM262.6 178.4L261.6 178.4 260.6 179.3 259.9 181.4 260.4 184.4 261.6 185.6 262.6 185.7 263.6 184.9 264.5 182.4 263.8 179.4 262.6 178.4Z"/>
<path fill-rule="evenodd" fill="#d50000" d="M187 147.2L206.7 147.2 207.5 149.2 209.1 150.2 210.3 150.4 211.3 150.2 212.7 149.2 213.7 147.2 278.7 147.2 279.2 154.2 278.7 159.3 279.3 166.3 278.7 179.4 279.1 189.4 278.6 204.5 277.7 211.5 275.7 215.9 273 218.6 269.6 220.5 265.6 221.7 260.6 222.4 253.5 222.5 248.5 222.2 247.4 221.6 247 219.6 246.1 218.6 243.9 217.6 240.5 217.2 237.5 217.5 235.5 218.3 234.1 219.6 233.6 221.6 232.6 222.6 226.3 224.6 192 224.6 188.2 222.4 184.4 218.6 182.2 215.2 179.8 207.5 179.3 203.5 180.5 191.4 184.6 176.4 185.8 173.3 189.6 167.3 189.6 166.3 187.2 162.4 185.9 159.3 185.9 154.2 187 147.2ZM198.3 155.1L196.3 156.5 194.9 158.3 192.7 162.3 191.3 166.3 192 168.3 194.8 171.3 197.3 173.1 199.3 173.6 201.3 173 203.3 170.5 204.1 167.3 204.2 164.3 203.5 160.3 202.3 157.2 200.3 155.2 198.3 155.1ZM225.4 162.9L224.6 165.3 225.4 167.7 226.4 166.3 226.4 165.3 226.3 164.3 225.4 162.9ZM242.5 167L241.5 168 241.2 170.3 241.5 172.4 242.5 173.4 243.5 172.3 243.7 170.3 243.5 168.3 242.5 167ZM261.6 176.9L260.6 177.5 259.4 179.4 259 183.4 259.6 185.8 260.6 187.4 261.6 188 262.6 188 263.8 187.4 265.3 185.4 265.8 183.4 265.8 181.4 264.6 178.4 263.6 177.4 261.6 176.9Z"/>
<path fill-rule="evenodd" fill="#ef0c00" d="M193.8 147.2L203 147.2 202.9 149.2 202.3 149.8 200.3 149 198.3 148.8 194.2 150.3 193.3 149.2 193.8 147.2ZM215.2 147.2L277.1 147.2 277.6 153.2 277.2 159.3 277.5 166.3 276.2 178.4 275.9 184.4 276 189.4 275 196.5 274.9 203.5 273.6 208.9 272.6 210.6 270.7 212.5 264.6 216.1 259.6 217.8 255.6 218.1 243.5 216.2 237.5 216.3 233.1 217.6 229.4 220.9 225.7 222.6 221.4 223.4 209.3 224.5 198.3 224 194.2 223.3 190.2 221.2 185.2 216.1 183.2 212.8 181.9 208.5 181.4 205.5 181.3 201.5 182.4 191.4 186.2 177.3 188.2 174.2 190.2 172.7 191.2 172.4 193.2 172.5 197.3 174.4 199.3 174.8 201.3 174.3 202.5 173.3 204.6 170.3 205.5 165.3 205.1 159.3 203.3 150.2 207.3 152 209.3 152.3 211.3 151.9 213.9 150.2 215.2 147.2ZM224.4 159.3L223.2 162.3 223.1 166.3 224.3 170.3 225.4 171.2 226.4 170.8 227.4 169 227.8 164.3 227.4 161.7 226.4 159.6 225.4 158.9 224.4 159.3ZM242.5 164.2L241.5 164.7 240.6 166.3 240 170.3 240.7 174.3 241.5 175.7 242.5 176.2 243.5 175.7 244.2 174.3 244.9 170.3 244.2 166.3 243.5 164.8 242.5 164.2ZM260.6 176.1L259.5 177.4 258.6 179.4 258.1 182.4 258.3 185.4 259.6 189.2 260.6 190.3 262.6 191 264.6 190.1 266 188.4 267.2 185.4 267.4 182.4 266.5 179.4 264.6 176.7 262.6 175.6 260.6 176.1Z"/>
<path fill-rule="evenodd" fill="#fb2d00" d="M217 147.2L276 147.2 276.3 154.2 275.9 166.3 274.4 174.3 272.6 179.4 271.6 180.7 270.6 181 269.6 180.4 265.6 176.1 262.6 174.5 260.6 174.9 259.6 175.7 258.5 177.4 257.8 179.4 257.2 184.4 257.5 189.4 261.9 204.5 262.1 206.5 261.9 208.5 261 210.5 258.6 213.1 255.6 214.4 252.5 214.9 240.5 215.1 235.5 215.7 232.2 216.6 227.4 219.7 224.4 221 220.4 221.7 208.3 222.9 198.3 222.3 194.2 221.3 190.2 218.8 185.4 213.5 184.2 211.1 183.2 207.5 182.8 200.5 183.8 192.4 185.9 183.4 187.4 178.4 189.2 175.9 191.2 174.6 193.2 174.4 199.3 176 201.6 175.3 204 173.3 205.4 171.3 206.5 168.3 208.3 156.9 209.7 155.2 213.3 153 215.2 151.2 216.5 149.2 217 147.2ZM224.4 155.8L223.4 156.7 222.4 159 221.9 162.3 221.9 165.3 222.3 168.3 223.3 171.3 224.4 172.9 225.4 173.4 226.4 173.2 227.2 172.3 228.2 170.3 228.8 167.3 228.9 164.3 228.4 161 227.4 157.9 226.4 156.5 225.4 155.8 224.4 155.8ZM242.5 162L241.5 162.3 240.1 164.3 239.3 167.3 239.1 170.3 239.3 173.3 240.3 176.4 241.5 178 242.5 178.3 243.5 178 244.7 176.4 245.6 173.3 245.8 170.3 245.5 167.2 244.7 164.3 243.5 162.5 242.5 162Z"/>
<path fill-rule="evenodd" fill="#ff7100" d="M220.2 147.2L275.1 147.2 274.9 161.3 274.1 167.3 272.6 172.5 271.3 175.3 269.6 176.4 268.6 176.3 264.6 173.9 262.6 173.3 260.6 173.6 259.6 174.3 258 176.4 256.9 179.4 255.6 188.4 255.3 196.5 254.5 202.5 254.9 208.5 253.8 210.5 252.4 211.5 247.5 213.4 237.5 214.3 232.4 215.3 224.4 219.2 220.4 220 208.3 221.2 199.3 220.7 195.2 219.9 191.3 217.6 187.3 213.5 185.5 210.5 184.5 206.5 184.1 202.5 184.5 196.5 188 180.4 189.2 178.2 191.8 176.4 194.2 176.1 198.3 177.1 200.3 177 202.3 176.2 204.6 174.3 206.9 171.3 211.3 160.7 214 156.2 218.7 151.2 219.8 149.2 220.2 147.2ZM223.4 151.8L222.4 152.3 221.7 153.2 221.1 155.2 220.6 159.3 220.7 164.3 221.3 168.3 222.4 172.1 223.4 173.9 225.4 175.3 226.4 175.2 227.4 174.5 228.7 172.3 229.6 168.3 229.7 163.3 228.9 158.3 227.4 154.5 225.4 152.2 223.4 151.8ZM241.5 160.2L240.3 161.3 239 164.3 238.4 167.3 238.2 171.3 238.6 174.3 239.5 177.4 240.5 179.1 241.5 180 242.5 180.3 243.5 180.1 244.3 179.4 245.5 177.3 246.4 173.3 246.6 169.3 245.7 164.3 244.5 161.4 243.5 160.3 242.5 159.9 241.5 160.2Z"/>
<path fill-rule="evenodd" fill="#fbd600" d="M226.4 147.2L274.1 147.2 274.1 159.3 272.6 166.4 271 171.3 269.7 173.3 268.6 173.8 267.6 173.8 263.6 172.2 261.6 172.1 259.6 173 257.6 175.3 256.3 178.4 252.9 190.4 252 197.5 250.1 202.5 249.5 207.5 248.7 209.5 247.6 210.5 243.5 212 231.4 214.3 224.4 217.4 219.4 218.5 208.3 219.7 199.3 219.1 195.2 218.2 192.2 216.4 188.3 212.5 186.6 209.5 185.8 205.5 185.5 202.5 185.8 197.5 189.2 180.8 190.2 179.3 192.2 177.9 194.2 177.6 200.3 178.2 202.3 177.6 204.2 176.4 208.2 172.3 214.3 162.4 216.4 160.3 217.4 160.1 218.4 161.4 221 171.3 222.4 174.7 224.4 176.9 226.4 177.2 227.4 176.7 228.6 175.3 229.8 172.3 230.6 168.3 230.8 164.3 229.5 155.2 226.4 147.2ZM241.5 157.7L239.8 159.3 238.4 162.3 237.5 166.3 237.3 171.3 238 176.4 239.2 179.4 240.5 181.2 242.5 182.4 244.5 181.7 246 179.4 247.1 175.3 247.4 170.3 246.9 165.3 245.5 160.6 243.5 158.1 242.5 157.6 241.5 157.7Z"/>
<path fill-rule="evenodd" fill="#bee011" d="M230.3 147.2L273.1 147.2 272.7 159.3 269.6 169.8 268.6 171.3 267.6 171.7 262.6 170.7 260.6 171 258.6 172.3 256.9 174.3 255.8 176.4 253.5 183.1 250.1 189.4 245.4 206.5 244.1 208.5 242.8 209.5 239.5 211 230.4 213.2 222.4 216.2 213.3 217.7 209.3 218.1 202.3 217.6 198.3 217.2 195.2 216.4 192.2 214.4 189.4 211.5 188 208.5 187.2 204.5 187.2 197.5 190.6 181.4 191.4 180.4 193.2 179.4 200.3 179.6 203.5 178.4 209.1 174.3 214.3 167.6 216.4 166.4 217.4 166.8 218.4 168.1 221.2 175.3 223.4 178.3 224.4 179 226.4 179.3 228.4 178.1 229.7 176.4 230.9 173.3 232 166.3 231.8 160.3 230.3 147.2ZM240.5 154.9L238.5 157.8 237 162.3 236.2 167.3 236.2 172.3 237.1 177.4 238.5 180.9 240.5 183.5 242.5 184.6 243.5 184.8 245.5 183.8 247.2 180.4 248.3 174.3 248.2 168.3 247 161.3 245.5 157.8 244.5 156.4 242.5 154.7 241.5 154.6 240.5 154.9Z"/>
<path fill-rule="evenodd" fill="#9dd93f" d="M242.1 147.2L272 147.2 271 159.3 268.3 167.3 266.6 169 261.6 169.3 258.6 170.6 255.3 174.3 252.5 179.7 251.5 180.9 250.5 181.3 249.8 179.4 249.4 169.3 248 160.3 242.1 147.2ZM216.3 171.3L217.4 171.8 219.7 176.4 221.8 179.4 223.4 180.7 225.4 181.4 227.4 181.2 230 179.4 232 176.4 233.4 173.1 234.4 174.4 235.9 179.4 238.2 183.4 240.5 186.1 244.5 189.3 245.1 190.4 245.1 193.4 244.2 199.5 242.5 205.5 240.8 207.5 237.5 209.4 219.4 215.1 212.3 216.2 208.3 216.3 199.3 215.5 195.2 214.3 191.2 211.3 190.2 209.5 189.4 206.5 189.2 197.5 191.3 185.4 192.2 182.7 194.2 181.2 200.3 181.1 203.3 180.2 210.6 176.4 215.4 171.7 216.3 171.3Z"/>
<path fill-rule="evenodd" fill="#d0f0b0" d="M245.9 147.2L270.7 147.2 269.3 158.3 268.1 162.3 266.5 165.3 264.6 166.7 258.6 168.6 253.5 172.5 252.5 172.6 251.5 171.2 249.1 159.3 246.7 152.2 245.9 147.2ZM212.7 179.4L215.4 178.7 217.4 179.1 222.4 182.6 225.4 183.7 228.4 183.4 232.4 181.8 233.4 181.9 235.5 183.4 240.2 189.4 241.3 191.4 241.8 193.4 241.8 197.5 241.2 201.5 240.5 203.5 239 205.5 236.5 207.3 233.8 208.5 222.4 212.4 218.4 213.5 212.3 214.4 207.3 214.5 199.3 213.2 196.3 212.4 193.2 210.5 192.2 209.3 191.7 207.5 191.4 199.5 192.7 189.4 194.2 184.8 196.3 183.5 201.3 182.9 207.3 180.7 212.7 179.4Z"/>
<path fill-rule="evenodd" fill="#f9fbfe" d="M248.2 147.2L268.7 147.2 268.5 151.2 267.6 156.5 265.8 161.3 264.5 163.3 262.6 164.7 256.6 166.9 254.6 167.1 253.5 166.6 251.8 163.3 249.1 154.2 248.2 147.2ZM205.6 184.4L209.3 183.7 216.4 183.7 219.4 184.3 225.4 186.2 231.4 186.2 233.4 186.6 234.7 187.4 236.5 189.3 238.4 193.4 238.7 198.5 237.5 202.5 235.6 204.5 232.2 206.5 221.4 210.8 216.4 212.1 211.3 212.7 207.3 212.6 198.3 210.2 196.3 209.3 195.2 208.5 194.2 206.9 193.6 203.5 193.6 197.5 194.8 192.4 196.3 189.5 198 187.4 205.6 184.4Z"/>
<path fill-rule="evenodd" fill="#e2ecfb" d="M250.2 147.2L266.3 147.2 266.4 151.2 265.7 155.2 263.9 159.3 262.3 161.3 260.6 162.4 257.6 163.2 255.6 162.8 254.6 162.1 252.8 159.3 251 154.2 250.4 151.2 250.2 147.2ZM206.3 188.4L210.3 187.5 218.4 187.7 222.4 188.6 229.4 191.1 231.6 192.4 232.9 194.4 233.5 197.5 233.1 200.5 231.8 202.5 230.7 203.5 221.7 208.5 218.4 209.8 210.3 211 207.3 210.5 204.5 209.5 199.3 206.8 197.3 205 196.3 202.5 196.2 198.5 197.3 195 199.3 192.4 201.9 190.4 206.3 188.4Z"/>
<path fill-rule="evenodd" fill="#bfd5f6" d="M251.8 147.2L263.8 147.2 264 150.2 263.6 153.2 262.6 155.8 260.6 158.3 258.6 159.3 257.6 159.2 255.6 158.1 253.5 154.9 252.5 152.3 251.8 147.2ZM208.5 191.4L212.3 190.7 216.4 190.9 219.4 191.6 222.4 193.4 224.6 196.5 225.4 199.5 225.1 201.5 223.1 204.5 220.9 206.5 218.4 208 213.3 209.1 210.3 209.2 208.3 208.8 204.5 206.5 201.4 202.5 200.8 200.5 201 198.5 201.9 196.5 203.6 194.4 206.3 192.4 208.5 191.4Z"/>
<path fill-rule="evenodd" fill="#6ea0e8" d="M253.6 147.2L261.2 147.2 261 151.2 259.6 153.6 257.6 154.1 255.6 152.8 254.1 150.2 253.6 147.2ZM209.2 194.4L212.3 193.6 215.4 193.8 217.4 194.5 219.4 196.2 220.7 198.5 221.1 201.5 220.4 203.5 218.7 205.5 216.4 206.9 212.3 207.7 209.3 207.1 207 205.5 205.4 202.5 205.2 199.5 206.6 196.5 209.2 194.4Z"/>
<path fill-rule="evenodd" fill="#2f75e0" d="M256.3 147.2L257.6 147.2 257.6 147.5 256.6 148.1 256.3 147.2ZM213.2 196.5L216.4 197.5 217.8 199.5 218.2 201.5 217.6 203.5 216.4 204.8 214.3 205.8 212.3 206 210.5 205.5 209.2 204.5 208.1 202.5 208.1 200.5 208.9 198.5 210 197.5 211.3 196.7 213.2 196.5Z"/>
<path fill-rule="evenodd" fill="#2467d7" d="M211.7 200.5L213.3 199.9 214.5 200.5 215.1 201.5 215 202.5 214.4 203.5 213.3 203.9 211.8 203.5 211.1 202.5 211.1 201.5 211.7 200.5Z"/>
<path fill="none" stroke="#c8500a" stroke-width="0.7" stroke-opacity="0.9" d="M170 224.6L169.3 220.6 169.4 211.5 168.5 204.5 168.5 200.5 169.6 193.4 173.9 175.3 176.6 147.2"/>
<path fill="none" stroke="#c8500a" stroke-width="0.7" stroke-opacity="0.9" d="M199.3 164.4L198.3 166.3 199.3 167.9 200.2 166.3 199.3 164.4M175 224.6L173.6 220.6 172.8 211.5 171.1 202.5 173.1 189.4 176.5 178.4 176.4 171.3 177.1 164.3 176.9 159.3 178.1 151.2 177.9 147.2"/>
<path fill="none" stroke="#c8500a" stroke-width="0.7" stroke-opacity="0.9" d="M283.7 150L283.7 154.9M198.3 161.2L197.3 162.4 196.5 164.3 196.4 167.3 197.3 169.4 199.3 170.7 200.3 170.4 201.3 169.2 201.9 165.3 201.3 162.7 200.3 161.3 199.3 160.9 198.3 161.2M261.6 181.1L261.6 182.4 262.6 182.4 262.6 181.1 261.6 181.1M283.7 219.3L282.7 222.1 281.1 224.6M181 224.6L178.5 221.6 177.2 218.6 173.8 202.5 175.9 189.4 179.4 179.4 179.7 165.3 179.1 159.3 180 153.2 180.1 147.2"/>
<path fill="none" stroke="#c8500a" stroke-width="0.7" stroke-opacity="0.9" d="M209.2 147.2L210.3 148.2 211.6 147.2M281.1 147.2L281.4 166.3 281.1 181.4 281.6 190.4 281 212.5 280.2 216.6 278.7 219.9 276.3 222.6 273.2 224.6M199.3 158.1L197.3 159.1 196.3 160.4 195 163.3 194.6 166.3 195 168.3 196 170.3 197.3 171.6 199.3 172.3 201.3 171.4 202.1 170.3 203.1 166.3 202.3 161.1 201.3 159.3 199.3 158.1M262.6 178.4L261.6 178.4 260.6 179.3 259.9 181.4 260.4 184.4 261.6 185.6 262.6 185.7 263.6 184.9 264.5 182.4 263.8 179.4 262.6 178.4M186.7 224.6L183.2 221.6 180.5 217.6 177.7 208.5 176.8 203.5 178.2 191.4 181.5 181.4 183.3 169.3 182.2 158.3 183.2 147.2"/>
<path fill="none" stroke="#ff7d19" stroke-width="0.7" stroke-opacity="0.9" d="M206.7 147.2L207.5 149.2 209.1 150.2 210.3 150.4 212.7 149.2 213.7 147.2M278.7 147.2L279.2 154.2 278.7 159.3 279.3 166.3 278.7 179.4 279.1 189.4 278.6 204.5 277.7 211.5 275.7 215.9 273 218.6 269.4 220.6 264.6 221.9 258.6 222.5 248.5 222.2 247.4 221.6 247 219.6 246.1 218.6 244.5 217.8 241.5 217.2 237.5 217.5 234.9 218.6 234.1 219.6 233.6 221.6 232.6 222.6 226.3 224.6M198.3 155.1L196.3 156.5 194.9 158.3 192.7 162.3 191.3 166.3 192 168.3 194.8 171.3 197.3 173.1 199.3 173.6 201.3 173 203.3 170.5 204.1 167.3 204.2 164.3 203.5 160.3 202.3 157.2 200.3 155.2 198.3 155.1M225.4 162.9L224.6 165.3 225.4 167.7 226.4 166.3 226.4 165.3 225.4 162.9M242.5 167L241.5 168 241.2 170.3 241.5 172.4 242.5 173.4 243.5 172.3 243.7 170.3 243.5 168.3 242.5 167M261.6 176.9L260.6 177.5 259.4 179.4 259 183.4 259.6 185.8 260.6 187.4 262.6 188 263.8 187.4 265.3 185.4 265.8 181.4 264.6 178.4 263.6 177.4 261.6 176.9M192 224.6L187.2 221.6 182.9 216.6 181.2 212.5 179.4 204.5 180.3 192.4 184.6 176.4 185.8 173.3 189.6 167.3 189.6 166.3 187.2 162.4 185.9 159.3 185.9 154.2 187 147.2"/>
<path fill="none" stroke="#ff7d19" stroke-width="0.7" stroke-opacity="0.9" d="M203 147.2L202.9 149.2 202.3 149.8 198.3 148.8 194.2 150.3 193.3 149.2 193.8 147.2M277.1 147.2L277.6 153.2 277.2 159.3 277.5 166.3 276.2 178.4 276 189.4 275 196.5 274.9 203.5 273.8 208.5 271.6 211.7 265.6 215.7 258.6 218 254.6 218.1 243.5 216.2 238.5 216.2 233.1 217.6 228.4 221.5 223.4 223.1 208.3 224.5 195.2 223.6 191.2 221.9 188.4 219.6 184.7 215.6 182.7 211.5 181.5 206.5 181.3 200.5 182 193.4 183.9 185.4 186.2 177.3 187.3 175.3 189.2 173.3 192.2 172.4 199.3 174.8 202.3 173.6 204.1 171.3 205.1 168.3 205.5 163.3 203.3 150.2 207.3 152 211.3 151.9 213.9 150.2 215.2 147.2M224.4 159.3L223.2 162.3 223.1 166.3 224.3 170.3 225.4 171.2 226.4 170.8 227.4 169 227.8 164.3 227.4 161.7 226.4 159.6 225.4 158.9 224.4 159.3M242.5 164.2L241.5 164.7 240.6 166.3 240 170.3 240.7 174.3 241.5 175.7 242.5 176.2 243.5 175.7 244.2 174.3 244.9 170.3 244.2 166.3 243.5 164.8 242.5 164.2M260.6 176.1L259.5 177.4 258.6 179.4 258.3 185.4 259.6 189.2 260.6 190.3 262.6 191 264.6 190.1 266 188.4 267.2 185.4 267.4 182.4 266.5 179.4 264.6 176.7 262.6 175.6 260.6 176.1"/>
<path fill="none" stroke="#ff7d19" stroke-width="0.7" stroke-opacity="0.9" d="M276 147.2L276.3 154.2 275.9 166.3 274.4 174.3 272.6 179.4 271.6 180.7 270.6 181 269.6 180.4 265.6 176.1 262.6 174.5 260.6 174.9 259.6 175.7 257.8 179.4 257.2 184.4 257.5 189.4 262.1 206.5 261.5 209.5 259.4 212.5 256.6 214.1 253.5 214.8 239.5 215.1 234.4 215.9 231.4 216.9 226.4 220.2 221.4 221.6 208.3 222.9 199.3 222.4 195.2 221.7 191.2 219.6 186.2 214.6 184.4 211.5 183.2 207.5 182.8 201.5 183.3 195.4 186.7 180.4 188.2 177 191.2 174.6 193.2 174.4 199.3 176 201.6 175.3 204 173.3 205.4 171.3 206.5 168.3 208.3 156.9 209.7 155.2 213.3 153 215.2 151.2 216.5 149.2 217 147.2M224.4 155.8L223.4 156.7 222.4 159 221.9 165.3 223.3 171.3 224.4 172.9 225.4 173.4 226.4 173.2 227.2 172.3 228.2 170.3 228.9 164.3 228.4 161 227.4 157.9 226.4 156.5 225.4 155.8 224.4 155.8M242.5 162L241.5 162.3 240.1 164.3 239.3 167.3 239.1 170.3 239.3 173.3 240.3 176.4 241.5 178 242.5 178.3 243.5 178 244.7 176.4 245.6 173.3 245.8 170.3 244.7 164.3 243.5 162.5 242.5 162"/>
<path fill="none" stroke="#ffcd32" stroke-width="0.7" stroke-opacity="0.9" d="M275.1 147.2L274.7 163.3 273.6 169.3 271.6 174.9 270.6 176 268.6 176.3 263.6 173.5 261.6 173.3 259.6 174.3 258.7 175.3 257.2 178.4 255.6 188.4 254.5 202.5 254.9 208.5 253.8 210.5 250.5 212.5 247.5 213.4 237.5 214.3 232.4 215.3 225.4 218.8 221.4 219.9 208.3 221.2 199.3 220.7 195.2 219.9 191.3 217.6 187.3 213.5 185.5 210.5 184.5 206.5 184.1 202.5 184.5 196.5 188 180.4 189.2 178.2 191.8 176.4 194.2 176.1 198.3 177.1 200.3 177 202.3 176.2 204.6 174.3 206.9 171.3 211.3 160.7 214 156.2 218.7 151.2 219.8 149.2 220.2 147.2M223.4 151.8L221.7 153.2 221.1 155.2 220.7 164.3 222.4 172.1 223.4 173.9 225.4 175.3 227.4 174.5 228.7 172.3 229.6 168.3 229.7 163.3 228.9 158.3 227.4 154.5 225.4 152.2 223.4 151.8M241.5 160.2L240.3 161.3 239 164.3 238.2 171.3 239.5 177.4 240.5 179.1 242.5 180.3 244.3 179.4 245.5 177.3 246.4 173.3 246.6 169.3 245.7 164.3 244.5 161.4 243.5 160.3 242.5 159.9 241.5 160.2"/>
<path fill="none" stroke="#ffcd32" stroke-width="0.7" stroke-opacity="0.9" d="M274.1 147.2L274.1 159.3 272.6 166.4 271 171.3 269.7 173.3 268.6 173.8 263.6 172.2 261.6 172.1 259.6 173 257.6 175.3 256.3 178.4 253.2 189.4 252 197.5 250.1 202.5 249.5 207.5 248.5 209.7 245.3 211.5 232.4 214 224.4 217.4 220.4 218.4 208.3 219.7 199.3 219.1 195.2 218.2 192.2 216.4 188.3 212.5 186.6 209.5 185.8 205.5 185.8 197.5 189.2 180.8 190.2 179.3 192.2 177.9 194.2 177.6 200.3 178.2 204.2 176.4 208.2 172.3 214.3 162.4 216.4 160.3 217.4 160.1 218.4 161.4 221 171.3 222.4 174.7 224.4 176.9 226.4 177.2 227.4 176.7 228.6 175.3 229.8 172.3 230.8 164.3 229.5 155.2 226.4 147.2M241.5 157.7L239.8 159.3 238.4 162.3 237.5 166.3 237.3 171.3 238 176.4 239.2 179.4 240.5 181.2 242.5 182.4 244.5 181.7 246 179.4 247.1 175.3 247.4 170.3 246.9 165.3 245.5 160.6 243.5 158.1 241.5 157.7"/>
<path fill="none" stroke="#f5ffd2" stroke-width="0.7" stroke-opacity="0.9" d="M273.1 147.2L272.7 159.3 269.6 169.8 268.6 171.3 267.6 171.7 262.6 170.7 260.6 171 258.6 172.3 256.9 174.3 253.5 183.1 250.1 189.4 245.4 206.5 244.1 208.5 240.5 210.6 230.4 213.2 223.4 215.9 219.4 216.8 208.3 218 199.3 217.4 195.2 216.4 192.2 214.4 189.4 211.5 188 208.5 187.2 204.5 187.2 197.5 190.6 181.4 193.2 179.4 200.3 179.6 203.5 178.4 209.1 174.3 214.3 167.6 216.4 166.4 217.4 166.8 218.4 168.1 221.2 175.3 223.4 178.3 224.4 179 226.4 179.3 228.4 178.1 229.7 176.4 230.9 173.3 232 166.3 231.8 160.3 230.3 147.2M240.5 154.9L238.5 157.8 237 162.3 236.2 167.3 236.2 172.3 237.1 177.4 238.5 180.9 240.5 183.5 243.5 184.8 245.5 183.8 247.2 180.4 248.3 174.3 248.2 168.3 247 161.3 245.5 157.8 242.5 154.7 240.5 154.9"/>
<path fill="none" stroke="#f5ffd2" stroke-width="0.7" stroke-opacity="0.9" d="M272 147.2L271 159.3 268.3 167.3 266.6 169 261.6 169.3 258.6 170.6 255.3 174.3 252.5 179.7 251.5 180.9 250.5 181.3 249.8 179.4 249.4 169.3 248 160.3 242.1 147.2M216.3 171.3L217.4 171.8 219.7 176.4 221.8 179.4 223.4 180.7 225.4 181.4 227.4 181.2 230 179.4 233.4 173.1 234.4 174.4 235.9 179.4 238.2 183.4 240.5 186.1 244.5 189.3 245.1 190.4 245.1 193.4 244.2 199.5 242.5 205.5 240.8 207.5 237.5 209.4 219.4 215.1 212.3 216.2 208.3 216.3 199.3 215.5 195.2 214.3 191.2 211.3 190.2 209.5 189.4 206.5 189.2 197.5 191.3 185.4 192.2 182.7 194.2 181.2 200.3 181.1 203.3 180.2 210.6 176.4 215.4 171.7 216.3 171.3"/>
<path fill="none" stroke="#f5ffd2" stroke-width="0.7" stroke-opacity="0.9" d="M270.7 147.2L269.3 158.3 268.1 162.3 266.6 165.2 264.6 166.7 258.6 168.6 253.5 172.5 252.5 172.6 251.5 171.2 249.1 159.3 246.7 152.2 245.9 147.2M212.7 179.4L215.4 178.7 217.4 179.1 222.4 182.6 225.4 183.7 228.4 183.4 232.4 181.8 233.4 181.9 235.5 183.4 240.2 189.4 241.8 193.4 241.8 197.5 241.2 201.5 240.5 203.5 239 205.5 233.8 208.5 222.4 212.4 212.3 214.4 207.3 214.5 199.3 213.2 196.3 212.4 193.2 210.5 191.7 207.5 191.4 199.5 192.7 189.4 194.2 184.8 196.3 183.5 201.3 182.9 207.3 180.7 212.7 179.4"/>
<path fill="none" stroke="#8cb4f0" stroke-width="0.7" stroke-opacity="0.9" d="M268.7 147.2L267.7 156.2 265.3 162.3 263.6 164.1 261.6 165.1 256.6 166.9 254.6 167.1 253.5 166.6 252.6 165.3 251.5 162.4 248.9 153.2 248.2 147.2M205.6 184.4L209.3 183.7 216.4 183.7 225.4 186.2 231.4 186.2 233.4 186.6 236.5 189.3 238.4 193.4 238.7 198.5 237.5 202.5 235.6 204.5 232.2 206.5 221.4 210.8 216.4 212.1 211.3 212.7 207.3 212.6 196.3 209.3 194.2 206.9 193.6 203.5 193.6 197.5 194.8 192.4 196.3 189.5 198 187.4 205.6 184.4"/>
<path fill="none" stroke="#8cb4f0" stroke-width="0.7" stroke-opacity="0.9" d="M266.3 147.2L266.2 153.2 264.5 158.3 261.6 161.9 257.6 163.2 255.6 162.8 254.6 162.1 252.8 159.3 250.5 152.3 250.2 147.2M206.3 188.4L210.3 187.5 218.4 187.7 229.4 191.1 231.6 192.4 232.9 194.4 233.5 197.5 233.1 200.5 230.7 203.5 221.7 208.5 218.4 209.8 210.3 211 207.3 210.5 204.5 209.5 199.3 206.8 197.3 205 196.3 202.5 196.2 198.5 197.3 195 199.3 192.4 201.9 190.4 206.3 188.4"/>
<path fill="none" stroke="#285ac8" stroke-width="0.7" stroke-opacity="0.9" d="M263.8 147.2L264 151.2 262.9 155.2 260.7 158.3 258.6 159.3 256.6 158.9 254.6 156.8 252.5 152.2 251.8 147.2M208.5 191.4L212.3 190.7 216.4 190.9 219.4 191.6 222.4 193.4 224.6 196.5 225.4 199.5 225.1 201.5 223.1 204.5 220.9 206.5 218.4 208 213.3 209.1 208.3 208.8 204.5 206.5 201.4 202.5 200.8 200.5 201 198.5 201.9 196.5 203.6 194.4 208.5 191.4"/>
<path fill="none" stroke="#285ac8" stroke-width="0.7" stroke-opacity="0.9" d="M261.2 147.2L261.2 150.2 260.6 152.3 259.6 153.6 257.6 154.1 255.6 152.8 254.6 151.3 253.6 147.2M209.2 194.4L212.3 193.6 215.4 193.8 217.4 194.5 219.4 196.2 220.7 198.5 221.1 201.5 220.4 203.5 218.7 205.5 216.4 206.9 212.3 207.7 209.3 207.1 207 205.5 205.4 202.5 205.2 199.5 206.6 196.5 209.2 194.4"/>
<path fill="none" stroke="#285ac8" stroke-width="0.7" stroke-opacity="0.9" d="M257.6 147.2L257.6 147.5 256.6 148.1 256.3 147.2M213.2 196.5L216.4 197.5 217.8 199.5 218.2 201.5 217.6 203.5 216.4 204.8 214.3 205.8 212.3 206 210.5 205.5 209.2 204.5 208.1 202.5 208.1 200.5 208.9 198.5 210 197.5 213.2 196.5"/>
<path fill="none" stroke="#285ac8" stroke-width="0.7" stroke-opacity="0.9" d="M211.7 200.5L213.3 199.9 214.5 200.5 215.1 201.5 214.4 203.5 213.3 203.9 211.8 203.5 211.1 202.5 211.7 200.5"/>
</g>
<rect x="166.1" y="147.2" width="117.6" height="77.4" fill="none" stroke="#333" stroke-width="0.6"/>
<text x="280.2" y="221.3" font-family="Liberation Sans, sans-serif" font-weight="bold" font-size="9" text-anchor="end" fill="#fff">PtO<tspan font-size="6.5" dy="2">2</tspan></text>
<text x="166.6" y="233.3" font-family="Liberation Sans, sans-serif" font-weight="bold" font-size="6.8" text-anchor="middle" fill="#111">0</text>
<line x1="166.6" y1="224.6" x2="166.6" y2="226.1" stroke="#444" stroke-width="0.6"/>
<text x="195.4" y="233.3" font-family="Liberation Sans, sans-serif" font-weight="bold" font-size="6.8" text-anchor="middle" fill="#111">4</text>
<line x1="195.4" y1="224.6" x2="195.4" y2="226.1" stroke="#444" stroke-width="0.6"/>
<text x="224.1" y="233.3" font-family="Liberation Sans, sans-serif" font-weight="bold" font-size="6.8" text-anchor="middle" fill="#111">8</text>
<line x1="224.1" y1="224.6" x2="224.1" y2="226.1" stroke="#444" stroke-width="0.6"/>
<text x="252.9" y="233.3" font-family="Liberation Sans, sans-serif" font-weight="bold" font-size="6.8" text-anchor="middle" fill="#111">12</text>
<line x1="252.9" y1="224.6" x2="252.9" y2="226.1" stroke="#444" stroke-width="0.6"/>
<text x="281.7" y="233.3" font-family="Liberation Sans, sans-serif" font-weight="bold" font-size="6.8" text-anchor="middle" fill="#111">16</text>
<line x1="281.7" y1="224.6" x2="281.7" y2="226.1" stroke="#444" stroke-width="0.6"/>
<text x="223.89999999999998" y="245.6" font-family="Liberation Sans, sans-serif" font-weight="bold" font-size="10.5" text-anchor="middle" fill="#111"><tspan font-style="italic">k</tspan> (Å<tspan font-size="6.5" dy="-3.5">-1</tspan><tspan dy="3.5">)</tspan></text>
<g clip-path="url(#hc2)">
<rect x="290.2" y="147.2" width="117.2" height="77.4" fill="#000000"/>
<path fill-rule="evenodd" fill="#300000" d="M293.2 148.2L293.3 147.2 407.4 147.2 407.4 224.6 313.6 224.6 311.9 219.6 311.2 212.5 310 206.5 305.2 202.6 300.2 201.4 297.2 199.8 294.4 197.5 293.1 194.4 292.6 190.4 293.4 181.4 293.2 148.2Z"/>
<path fill-rule="evenodd" fill="#5b0000" d="M296.6 147.2L407.4 147.2 407.4 224.6 332.7 224.6 329.3 222.5 327.3 222.1 322.3 224.1 320.3 224.2 318.7 222.6 315.8 217.6 314.8 214.5 312.4 209.5 311.4 205.5 308.1 203.5 306.2 200 301.2 198.6 298.2 197 296.8 195.4 296 193.4 295.8 189.4 296.8 180.4 296.6 147.2Z"/>
<path fill-rule="evenodd" fill="#850000" d="M299.8 147.2L407.2 147.2 407.4 219.5 403.4 220.5 398.4 220.9 390.4 220.6 381.4 220.9 371.3 220.2 362.3 223.1 357.3 223.8 350.3 222.6 343.3 222.9 336.3 222.3 333.3 220.7 330.3 217.3 324.3 216.8 322.3 215.8 319.4 212.5 316.2 211.6 314.2 210.1 313.3 208.5 312.9 205.5 312.2 204.6 309.2 203.4 308.6 202.5 308.2 199.6 307.2 198.5 301.2 196 299.4 194.4 299 193.4 298.8 189.4 300.3 183.4 299.7 177.4 300.2 171.3 299.6 164.3 300 156.2 299.8 147.2ZM390.4 183.2L389.4 183.6 388.5 184.4 388 186.4 388.2 187.4 388.9 188.4 390.4 189 392.4 188.1 393.1 186.4 392.4 184.3 391.4 183.5 390.4 183.2Z"/>
<path fill-rule="evenodd" fill="#b00000" d="M304.7 148.2L305.3 147.2 373.7 147.2 375.3 151.6 377.3 153.7 379.4 154.8 380 154.2 379.4 152.2 376.4 147.2 398.1 147.2 399.4 152.2 400.2 159.3 401.8 166.3 403.4 179.4 403.9 195.4 404.4 201.5 403.9 207.5 403.2 209.5 401.4 211.2 399.4 212.3 393.4 214.1 383.4 214.7 372.3 214.7 367.3 215.8 358.3 219.8 355.3 219.9 350.3 217.9 345.3 219.7 342.3 219.9 337.3 219.8 335.3 219.3 331.3 215.6 325.3 214.4 323.7 213.5 320.7 210.5 315.2 209 314.2 207.5 313.7 204.5 312.2 203.4 310.2 203.1 309.6 202.5 309.5 199.5 308.9 198.5 307.2 196.7 302.5 193.4 301.7 191.4 301.7 189.4 302.9 183.4 302.1 177.4 303 170.3 302.6 163.3 304.4 155.2 304.7 148.2ZM371.3 204.3L369.5 205.5 369.4 206.5 371.3 207.9 374.3 208.1 375.9 207.5 376.9 206.5 377 205.5 376 204.5 373.3 204 371.3 204.3ZM389.4 181.1L387.2 183.4 386.5 185.4 386.4 187.4 387.2 189.4 388.4 190.5 389.4 190.9 391.4 190.8 393.4 189.9 394.6 188.4 395 187.4 395 185.4 394 183.4 392.4 181.5 391.4 180.9 389.4 181.1Z"/>
<path fill-rule="evenodd" fill="#d50000" d="M316.5 148.2L317.9 147.2 323.1 147.2 325.3 148.4 326.3 148.3 327.5 147.2 365.6 147.2 366.3 147.8 374.3 156.5 380.8 162.3 386.8 169.3 388 171.3 388.2 173.3 387.5 177.4 384.9 185.4 384.3 192.4 381.1 198.5 377.5 201.5 371.3 202.9 368.3 204.3 367.3 205.5 367 206.5 367.9 209.5 367.7 210.5 365.3 212.1 356.3 216 350.3 215.1 344.3 216.9 336.3 216.7 332.3 213.8 325.3 212.1 322.4 209.5 320.3 208.5 319.4 207.5 319.8 205.5 319.5 204.5 318.2 203.6 315.2 203.8 314.9 203.5 314.1 202.5 315.3 200.5 315 199.5 313.2 198.6 311.2 198.7 310.2 198 305.5 191.4 304.8 188.4 304.3 176.4 306.1 163.3 311.8 153.2 316.5 148.2ZM386 147.2L387.5 147.2 387.4 147.7 386.4 147.7 386 147.2Z"/>
<path fill-rule="evenodd" fill="#ef0c00" d="M328.6 148.2L329.5 147.2 358.6 147.2 359.3 147.5 363.3 149.3 367.3 152.6 378 163.3 381.4 168.3 383.4 173.3 384 178.4 382.5 187.4 381 191.4 378.4 196 375.3 199.3 373.8 200.5 367.3 203.5 365.3 205.5 363.5 208.5 361.3 210 358.3 211.2 353.3 212.4 344.3 213.5 338.3 212.9 330.3 211 327.3 209.8 322.3 206.7 320.2 203.5 317.3 201.5 315.6 198.5 312.1 196.5 311.1 195.4 310.2 191.8 308.1 187.4 306.9 182.4 307 175.3 307.8 171.3 312.1 160.3 315 155.2 317.2 152.5 320.3 149.9 322.3 149.6 325.3 150.3 327.3 149.5 328.6 148.2Z"/>
<path fill-rule="evenodd" fill="#fb2d00" d="M330.6 148.2L332.8 147.2 350.3 147.2 355.3 148.4 359.3 149.8 364.3 152.7 369.3 157.1 376.1 164.3 379.3 169.3 381 174.3 381.5 179.4 380.7 185.4 378.8 190.4 376.3 194.4 372.7 198.5 366.3 202.6 361.3 207 359.3 208.1 352.3 210.3 347.3 211.1 341.3 210.8 332.3 208.9 328.3 207.2 321.1 202.5 317.6 198.5 315.1 196.5 313.7 194.4 310.5 185.4 309.7 179.4 310.3 173.3 313.5 163.3 316.6 157.3 320 153.2 322.3 152 326.3 151.4 330.6 148.2Z"/>
<path fill-rule="evenodd" fill="#ff7100" d="M337.9 148.2L344.3 148.3 351.3 149.2 357.3 151.1 362.3 153.6 367.3 157.6 373.7 164.3 377 169.3 378.9 174.3 379.3 180.4 378.6 185.4 376.9 189.4 373.5 194.4 369.4 198.5 360.3 205.2 356.3 207 351.3 208.5 344.3 209.1 337.3 208.2 330.3 205.9 323.3 201.8 321.3 200.2 316.3 194.4 313.4 187.4 312.6 184.4 312 178.4 312.8 172.3 315.7 163.3 319 157.3 322 154.2 327.3 152.2 331.3 149.5 333.3 148.8 337.9 148.2Z"/>
<path fill-rule="evenodd" fill="#fbd600" d="M333.9 150.2L340.3 149.7 347.3 150.3 353.3 151.6 359.3 154 364.3 157.3 369.6 162.3 372.9 166.3 375.8 171.3 377 175.3 377.3 180.4 376.4 185.4 374.6 189.4 371.6 193.4 367.3 197.4 360.3 202.8 356.3 204.8 350.3 206.7 344.3 207.3 338.3 206.5 331.7 204.5 328.3 202.7 322.5 198.5 318.2 193.5 315.9 188.4 314.3 182.4 314.2 176.4 315.3 170.3 318.2 162.3 320.3 158.5 322.3 156.2 331.3 151 333.9 150.2Z"/>
<path fill-rule="evenodd" fill="#bee011" d="M332.1 152.2L337.3 151.3 344.3 151.6 351.3 152.9 357.6 155.2 361.3 157.3 367.1 162.3 370.5 166.3 373.6 171.3 374.9 175.3 375.3 179.4 374.8 183.4 373.2 187.4 371.3 190.4 368.5 193.4 359.5 200.5 356 202.5 350.3 204.6 345.3 205.3 340.3 204.9 334.5 203.5 330.3 201.8 325.3 198.2 320.8 193.4 319.2 191 317 185.4 316.1 179.4 316.7 173.3 318.5 166.3 320.7 161.3 323.3 157.6 325.3 156 332.1 152.2Z"/>
<path fill-rule="evenodd" fill="#9dd93f" d="M334.6 153.2L340.3 152.9 345.3 153.6 352.3 155.4 358.3 157.9 362.9 161.3 366.9 165.3 369.9 169.3 371.8 173.3 372.7 177.4 372.6 181.4 371.5 185.4 369.7 188.4 367.3 191.1 362.3 195 355.3 199.8 350.3 202.1 346.3 202.9 341.3 202.9 335.3 201.5 331.3 199.7 326.7 196.5 323.8 193.4 321.3 189.7 319.5 185.4 318.6 180.4 318.7 175.3 320.3 167.3 322.2 162.3 324.1 159.3 326.1 157.3 330.3 154.6 334.6 153.2Z"/>
<path fill-rule="evenodd" fill="#d0f0b0" d="M333.1 155.2L338.3 154.7 342.9 155.2 350.3 157.2 355.3 159.2 359.3 161.7 363.3 165.2 366.7 169.3 368.4 172.3 369.3 175.3 369.7 179.4 369 183.4 367.6 186.4 364.9 189.4 361.2 192.4 354.3 196.9 350.3 199 346.3 200.1 342.3 200.3 337.9 199.5 333.3 197.6 329.8 195.4 326.6 192.4 324.5 189.4 322.6 185.4 321.5 181.4 321.4 177.4 322.3 170.2 323.7 164.3 325 161.3 327.5 158.3 330.3 156.3 333.1 155.2Z"/>
<path fill-rule="evenodd" fill="#f9fbfe" d="M333.6 157.3L336.3 156.9 340.3 157.2 350.3 160.3 357.3 164 362.1 168.3 365.2 173.3 366 176.4 366.2 179.4 365.7 182.4 364.8 184.4 363.3 186.5 360.4 189.4 355.3 192.9 350.3 195.5 347.3 196.5 343.3 197 339.3 196.5 335.3 195 332.3 193.2 329.3 190.4 326.7 186.4 325 181.4 324.8 177.4 325.6 169.3 326.5 164.3 327.9 161.3 330.3 158.7 333.6 157.3Z"/>
<path fill-rule="evenodd" fill="#e2ecfb" d="M335.2 160.3L337.3 160.1 340.3 160.6 350.3 164.1 356 167.3 359.9 171.3 361.1 173.3 362.1 176.4 362.3 179.4 362 181.4 360 185.4 355.5 189.4 352.3 191.3 348.3 192.9 345.3 193.4 342.3 193.4 339.3 192.8 336.2 191.4 333.5 189.4 331.3 186.8 329.6 183.4 328.7 179.4 328.8 175.3 329.8 167.3 330.6 164.3 331.8 162.3 333.3 161 335.2 160.3Z"/>
<path fill-rule="evenodd" fill="#bfd5f6" d="M338.8 166.3L343.3 166.1 349.3 167.6 353.3 169.6 357 173.3 358.5 177.4 358.3 181.4 356.3 184.9 352.3 188.3 347.3 190.2 342.3 190.2 337.9 188.4 335.6 186.4 334 184.4 333.1 182.4 332.5 179.4 333 174.3 334.3 170.9 335.8 168.3 337.3 166.9 338.8 166.3Z"/>
<path fill-rule="evenodd" fill="#6ea0e8" d="M341.8 170.3L345.3 170 349.3 170.9 352.3 172.7 354.4 175.3 355.4 178.4 355 181.4 353 184.4 350.3 186.4 346.3 187.6 342.3 187.2 338.9 185.4 336.6 182.4 335.8 179.4 336.5 175.3 338.4 172.3 340.3 170.9 341.8 170.3Z"/>
<path fill-rule="evenodd" fill="#2f75e0" d="M343.6 173.3L346.3 173.2 348.3 173.7 350.6 175.3 351.8 177.4 352.1 179.4 351.5 181.4 350.3 183 348.3 184.3 345.3 184.8 343.3 184.4 341.3 183.3 339.7 181.4 339.2 178.4 339.8 176.4 341.3 174.5 343.6 173.3Z"/>
<path fill-rule="evenodd" fill="#2467d7" d="M344.7 177.4L346.3 177.3 347.1 178.4 347.1 179.4 346.3 180.3 345.1 180.4 344 179.4 344 178.4 344.7 177.4Z"/>
<path fill="none" stroke="#c8500a" stroke-width="0.7" stroke-opacity="0.9" d="M313.6 224.6L311.9 219.6 311.2 212.5 310 206.5 305.2 202.6 300.2 201.4 297.2 199.8 294.4 197.5 293.1 194.4 292.6 190.4 293.4 181.4 293.3 147.2"/>
<path fill="none" stroke="#c8500a" stroke-width="0.7" stroke-opacity="0.9" d="M332.7 224.6L328.3 222.1 326.3 222.3 321.3 224.3 319.5 223.6 315.8 217.6 314.8 214.5 312.4 209.5 311.4 205.5 308.1 203.5 306.2 200 299.2 197.7 297.6 196.5 296.3 194.4 295.7 190.4 296.8 180.4 296.6 147.2"/>
<path fill="none" stroke="#c8500a" stroke-width="0.7" stroke-opacity="0.9" d="M407.2 147.2L407.4 147.9M390.4 183.2L388.5 184.4 388 186.4 388.9 188.4 390.4 189 392.4 188.1 393.1 186.4 392.4 184.3 390.4 183.2M407.4 219.5L403.4 220.5 398.4 220.9 390.4 220.6 381.4 220.9 371.3 220.2 362.3 223.1 357.3 223.8 350.3 222.6 343.3 222.9 336.3 222.3 333.3 220.7 330.3 217.3 324.3 216.8 322.3 215.8 319.4 212.5 316.2 211.6 314.2 210.1 313.3 208.5 312.9 205.5 312.2 204.6 309.2 203.4 308.6 202.5 308.2 199.6 307.2 198.5 301.2 196 299 193.4 298.8 189.4 300.3 183.4 299.7 177.4 300.2 171.3 299.6 164.3 300 156.2 299.8 147.2"/>
<path fill="none" stroke="#c8500a" stroke-width="0.7" stroke-opacity="0.9" d="M373.7 147.2L375.3 151.6 377.3 153.7 379.4 154.8 380 154.2 379.4 152.2 376.4 147.2M398.1 147.2L399.4 152.2 400.2 159.3 401.8 166.3 403.4 179.4 404.4 201.5 403.9 207.5 403.2 209.5 400.4 211.8 394.4 213.9 387.4 214.6 371.3 214.8 367.3 215.8 359.3 219.5 356.3 220 354.3 219.6 350.3 217.9 344.3 219.9 336.3 219.6 334.3 218.6 331.2 215.6 324.3 214 320.7 210.5 315.2 209 314.2 207.5 313.7 204.5 312.2 203.4 310.2 203.1 309.6 202.5 309.5 199.5 308.9 198.5 307.2 196.7 302.5 193.4 301.7 190.4 302.9 183.4 302.1 177.4 303 170.3 302.6 163.3 304.4 155.2 304.5 149.2 305.3 147.2M389.4 181.1L387.2 183.4 386.5 185.4 386.4 187.4 387.2 189.4 388.4 190.5 391.4 190.8 393.4 189.9 394.6 188.4 395 185.4 394 183.4 392.4 181.5 391.4 180.9 389.4 181.1M371.3 204.3L369.5 205.5 369.4 206.5 371.3 207.9 374.3 208.1 375.9 207.5 376.9 206.5 377 205.5 376 204.5 373.3 204 371.3 204.3"/>
<path fill="none" stroke="#ff7d19" stroke-width="0.7" stroke-opacity="0.9" d="M323.1 147.2L325.3 148.4 326.3 148.3 327.5 147.2M365.6 147.2L375.1 157.3 380.8 162.3 388 171.3 388.2 173.3 387.5 177.4 384.9 185.4 384.3 192.4 381.8 197.5 379.1 200.5 376.3 201.9 370.3 203.3 368.1 204.5 367 206.5 367.9 209.5 367.7 210.5 366.4 211.5 356.3 216 350.3 215.1 344.3 216.9 336.3 216.7 332.3 213.8 325.3 212.1 319.4 207.5 319.8 205.5 319.2 204.2 318.2 203.6 314.9 203.5 314.1 202.5 315.3 200.5 315 199.5 313.2 198.6 311.2 198.7 310.2 198 305.2 190.8 304.3 177.4 306.1 163.3 311.8 153.2 314.4 150.2 317.9 147.2M387.5 147.2L387.4 147.7 386.4 147.7 386 147.2"/>
<path fill="none" stroke="#ff7d19" stroke-width="0.7" stroke-opacity="0.9" d="M358.6 147.2L363.3 149.3 366.3 151.6 377.1 162.3 380.9 167.3 382.8 171.3 383.9 176.4 383.9 180.4 382.7 186.4 381 191.4 377.2 197.5 373.8 200.5 367.3 203.5 362.3 209.5 358.3 211.2 353.3 212.4 344.3 213.5 338.3 212.9 329.3 210.7 322.3 206.7 320.2 203.5 317.3 201.5 315.6 198.5 311.2 195.6 310.2 191.8 308.2 187.7 307.2 184.1 306.8 179.4 307.5 172.3 311.6 161.3 313.7 157.3 316.6 153.2 319.8 150.2 321.3 149.6 324.8 150.2 326.3 150 329.5 147.2"/>
<path fill="none" stroke="#ff7d19" stroke-width="0.7" stroke-opacity="0.9" d="M350.3 147.2L356.3 148.7 362.3 151.4 367.3 155.2 373.4 161.3 376.8 165.3 379.8 170.3 381.2 175.3 381.5 180.4 380.7 185.4 379.3 189.4 376.3 194.4 372.3 198.8 366.3 202.6 361.3 207 359.3 208.1 351.3 210.6 345.3 211.1 338.3 210.3 331.3 208.6 328.3 207.2 321.3 202.6 314.3 195.4 310.3 184.4 309.7 179.4 310.1 174.3 313.5 163.3 316 158.3 318 155.2 320.3 153 322.3 152 326.3 151.4 331.3 147.8 332.8 147.2"/>
<path fill="none" stroke="#ffcd32" stroke-width="0.7" stroke-opacity="0.9" d="M337.9 148.2L344.3 148.3 351.3 149.2 357.3 151.1 362.3 153.6 367.3 157.6 373.7 164.3 377 169.3 378.9 174.3 379.3 180.4 378.6 185.4 376.9 189.4 373.5 194.4 369.4 198.5 360.3 205.2 356.3 207 351.3 208.5 344.3 209.1 337.3 208.2 330.3 205.9 323.3 201.8 321.3 200.2 316.3 194.4 312.6 184.4 312 178.4 312.8 172.3 315.7 163.3 319 157.3 322 154.2 327.3 152.2 331.3 149.5 333.3 148.8 337.9 148.2"/>
<path fill="none" stroke="#ffcd32" stroke-width="0.7" stroke-opacity="0.9" d="M333.9 150.2L340.3 149.7 347.3 150.3 353.3 151.6 359.3 154 364.3 157.3 369.6 162.3 372.9 166.3 375.8 171.3 377 175.3 377.3 180.4 376.4 185.4 374.6 189.4 371.6 193.4 367.3 197.4 360.3 202.8 356.3 204.8 350.3 206.7 344.3 207.3 338.3 206.5 331.7 204.5 328.3 202.7 322.5 198.5 318.2 193.5 315.9 188.4 314.3 182.4 314.2 176.4 315.3 170.3 318.2 162.3 320.3 158.5 322.3 156.2 331.3 151 333.9 150.2"/>
<path fill="none" stroke="#f5ffd2" stroke-width="0.7" stroke-opacity="0.9" d="M332.1 152.2L337.3 151.3 344.3 151.6 351.3 152.9 357.6 155.2 361.3 157.3 367.1 162.3 370.5 166.3 373.6 171.3 374.9 175.3 375.3 179.4 374.8 183.4 373.2 187.4 371.3 190.4 368.5 193.4 359.5 200.5 356 202.5 350.3 204.6 345.3 205.3 340.3 204.9 334.5 203.5 330.3 201.8 325.3 198.2 320.8 193.4 319.2 191 317 185.4 316.1 179.4 316.7 173.3 318.5 166.3 320.7 161.3 323.3 157.6 325.3 156 332.1 152.2"/>
<path fill="none" stroke="#f5ffd2" stroke-width="0.7" stroke-opacity="0.9" d="M334.6 153.2L340.3 152.9 345.3 153.6 352.3 155.4 358.3 157.9 362.9 161.3 366.9 165.3 369.9 169.3 371.8 173.3 372.7 177.4 372.6 181.4 371.5 185.4 369.7 188.4 367.3 191.1 362.3 195 355.3 199.8 350.3 202.1 346.3 202.9 341.3 202.9 335.3 201.5 331.3 199.7 326.7 196.5 323.8 193.4 321.3 189.7 319.5 185.4 318.6 180.4 318.7 175.3 320.3 167.3 322.2 162.3 324.1 159.3 326.1 157.3 330.3 154.6 334.6 153.2"/>
<path fill="none" stroke="#f5ffd2" stroke-width="0.7" stroke-opacity="0.9" d="M333.1 155.2L338.3 154.7 342.9 155.2 350.3 157.2 355.3 159.2 359.3 161.7 363.3 165.2 366.7 169.3 368.4 172.3 369.3 175.3 369.7 179.4 369 183.4 367.6 186.4 364.9 189.4 361.2 192.4 350.3 199 346.3 200.1 342.3 200.3 337.9 199.5 333.3 197.6 329.8 195.4 326.6 192.4 324.5 189.4 322.6 185.4 321.5 181.4 321.4 177.4 322.3 170.2 323.7 164.3 325 161.3 327.5 158.3 330.3 156.3 333.1 155.2"/>
<path fill="none" stroke="#8cb4f0" stroke-width="0.7" stroke-opacity="0.9" d="M333.6 157.3L336.3 156.9 340.3 157.2 350.3 160.3 357.3 164 362.1 168.3 365.2 173.3 366 176.4 366.2 179.4 364.8 184.4 363.3 186.5 360.4 189.4 355.3 192.9 350.3 195.5 347.3 196.5 343.3 197 339.3 196.5 335.3 195 332.3 193.2 329.3 190.4 326.7 186.4 325 181.4 324.8 177.4 325.6 169.3 326.5 164.3 327.9 161.3 330.3 158.7 333.6 157.3"/>
<path fill="none" stroke="#8cb4f0" stroke-width="0.7" stroke-opacity="0.9" d="M335.2 160.3L340.3 160.6 350.3 164.1 356 167.3 359.9 171.3 362.1 176.4 362 181.4 360 185.4 355.5 189.4 352.3 191.3 348.3 192.9 342.3 193.4 339.3 192.8 336.2 191.4 333.5 189.4 331.3 186.8 329.6 183.4 328.7 179.4 329.8 167.3 330.6 164.3 331.8 162.3 333.3 161 335.2 160.3"/>
<path fill="none" stroke="#285ac8" stroke-width="0.7" stroke-opacity="0.9" d="M338.8 166.3L343.3 166.1 349.3 167.6 353.3 169.6 357 173.3 358.5 177.4 358.3 181.4 356.3 184.9 352.3 188.3 347.3 190.2 342.3 190.2 337.9 188.4 334 184.4 333.1 182.4 332.5 179.4 333 174.3 335.8 168.3 337.3 166.9 338.8 166.3"/>
<path fill="none" stroke="#285ac8" stroke-width="0.7" stroke-opacity="0.9" d="M341.8 170.3L345.3 170 349.3 170.9 352.3 172.7 354.4 175.3 355.4 178.4 355 181.4 353 184.4 350.3 186.4 346.3 187.6 342.3 187.2 338.9 185.4 336.6 182.4 335.8 179.4 336.5 175.3 338.4 172.3 341.8 170.3"/>
<path fill="none" stroke="#285ac8" stroke-width="0.7" stroke-opacity="0.9" d="M343.6 173.3L346.3 173.2 348.3 173.7 350.6 175.3 351.8 177.4 352.1 179.4 351.5 181.4 350.3 183 348.3 184.3 345.3 184.8 343.3 184.4 341.3 183.3 339.7 181.4 339.2 178.4 339.8 176.4 341.3 174.5 343.6 173.3"/>
<path fill="none" stroke="#285ac8" stroke-width="0.7" stroke-opacity="0.9" d="M344.7 177.4L346.3 177.3 347.1 178.4 347.1 179.4 346.3 180.3 345.1 180.4 344 179.4 344 178.4 344.7 177.4"/>
</g>
<rect x="290.2" y="147.2" width="117.2" height="77.4" fill="none" stroke="#333" stroke-width="0.6"/>
<text x="403.9" y="221.3" font-family="Liberation Sans, sans-serif" font-weight="bold" font-size="9" text-anchor="end" fill="#fff">PtBr<tspan font-size="6.5" dy="2">2</tspan></text>
<text x="290.7" y="233.3" font-family="Liberation Sans, sans-serif" font-weight="bold" font-size="6.8" text-anchor="middle" fill="#111">0</text>
<line x1="290.7" y1="224.6" x2="290.7" y2="226.1" stroke="#444" stroke-width="0.6"/>
<text x="319.4" y="233.3" font-family="Liberation Sans, sans-serif" font-weight="bold" font-size="6.8" text-anchor="middle" fill="#111">4</text>
<line x1="319.4" y1="224.6" x2="319.4" y2="226.1" stroke="#444" stroke-width="0.6"/>
<text x="348.1" y="233.3" font-family="Liberation Sans, sans-serif" font-weight="bold" font-size="6.8" text-anchor="middle" fill="#111">8</text>
<line x1="348.1" y1="224.6" x2="348.1" y2="226.1" stroke="#444" stroke-width="0.6"/>
<text x="376.7" y="233.3" font-family="Liberation Sans, sans-serif" font-weight="bold" font-size="6.8" text-anchor="middle" fill="#111">12</text>
<line x1="376.7" y1="224.6" x2="376.7" y2="226.1" stroke="#444" stroke-width="0.6"/>
<text x="405.4" y="233.3" font-family="Liberation Sans, sans-serif" font-weight="bold" font-size="6.8" text-anchor="middle" fill="#111">16</text>
<line x1="405.4" y1="224.6" x2="405.4" y2="226.1" stroke="#444" stroke-width="0.6"/>
<text x="347.8" y="245.6" font-family="Liberation Sans, sans-serif" font-weight="bold" font-size="10.5" text-anchor="middle" fill="#111"><tspan font-style="italic">k</tspan> (Å<tspan font-size="6.5" dy="-3.5">-1</tspan><tspan dy="3.5">)</tspan></text>
<g clip-path="url(#hc3)">
<rect x="414.2" y="147.2" width="116.6" height="77.4" fill="#000000"/>
<path fill-rule="evenodd" fill="#300000" d="M435.2 147.2L530.8 147.2 530.8 224.6 417.7 224.6 415.4 205.5 415.6 195.4 416.6 187.4 417.8 183.4 421.2 175.3 425.5 169.3 431.2 159.3 434.4 151.2 435.2 147.2Z"/>
<path fill-rule="evenodd" fill="#5b0000" d="M441.8 148.2L442.4 147.2 445.5 147.2 445.4 153.2 445.9 158.3 447.4 162 448.4 162.8 449.4 162.9 450.4 162.1 451.4 160.3 452.2 157.3 452.4 152.2 451.4 147.2 461 147.2 460.2 149.2 460 152.2 461.1 155.2 462.4 156.3 463.5 156.2 464.5 155.3 465.3 153.2 465.4 150.2 464.4 147.2 530.8 147.2 530.8 224.6 422.9 224.6 421.2 220.8 419.6 215.6 418 207.5 417.9 198.5 419.2 189.4 420.9 184.4 423.7 178.4 435.7 162.3 441.8 148.2ZM476.5 150.8L475.7 152.2 475.7 153.2 476.5 154.9 477.5 155.3 479 154.2 479.4 152.2 478.5 150.8 477.5 150.4 476.5 150.8Z"/>
<path fill-rule="evenodd" fill="#850000" d="M483.5 147.2L530.8 147.2 530.8 224.6 430.7 224.6 427.3 221.3 424.3 216.9 421.7 211.5 420.4 206.5 420.2 200.5 421.1 192.4 423.2 186.6 426.3 181.2 430.3 176.3 435.3 171.7 443.3 166.8 444.4 166.6 448.4 167.3 450.4 166.6 454.4 161.8 456.4 160.1 458.4 160 461.4 160.8 463.5 160.9 465.5 160.2 469.5 157.6 470.5 157.5 476.5 159.3 479.5 158.6 481.9 156.2 483.9 152.2 484.2 149.2 483.5 147.2ZM491.6 160.8L491.6 162.6 491.6 160.8Z"/>
<path fill-rule="evenodd" fill="#b00000" d="M491 147.2L530.8 147.2 530.8 224.6 513.2 224.6 505.7 223.7 495.6 224.6 482.1 224.6 472.5 223.2 468.5 223.5 463.2 224.6 450.4 224.6 441.3 223.1 438.3 222.2 434.3 220.1 430.3 217.1 426.9 213.5 424.3 209.5 423.3 206.5 422.9 201.5 423.5 194.4 424.3 191.4 426.7 186.4 430.3 181.1 433.3 178.2 437.3 175.6 444.4 172.7 449.4 171.1 455.4 167.4 459.4 166 468.5 165.2 478.5 163.6 486.6 161.5 487.6 161.9 488.6 163.2 491.2 167.3 492.6 167.8 493.6 166.6 493.9 165.3 493.7 158.3 491.9 153.2 491 147.2Z"/>
<path fill-rule="evenodd" fill="#d50000" d="M493.3 147.2L529.7 147.2 529.6 165.3 530.8 187.9 530.8 209.5 529.8 212.5 527.8 215.5 525.8 217 522.8 217.7 507.7 217.8 490.6 220.9 483.6 220.7 473.5 219 460.4 220.5 455.4 220.7 449.4 220 438.3 217.2 434.3 215.2 430.3 212.1 428.1 209.5 426.6 206.5 426.1 203.5 426.1 197.5 426.5 194.4 428.1 189.4 429.7 186.4 432.3 183 435.3 180.4 438.3 178.6 450.4 174.1 457.4 171 461.4 169.7 475.5 167.7 481.5 167.3 486.6 166.4 488.6 167.2 490.8 169.3 492.6 169.7 493.6 169 494.5 167.3 494.9 164.3 494.7 157.3 493.5 152.2 493.3 147.2Z"/>
<path fill-rule="evenodd" fill="#ef0c00" d="M494.7 147.2L527.7 147.2 527.6 166.3 528.4 195.4 527.5 202.5 526.3 205.5 524.8 207.6 521.8 210 516.7 211.8 504.7 214.1 494.4 216.6 486.6 217.4 482.6 217.2 473.5 215.9 464.5 217 451.4 217.2 438.3 214 435.3 212.6 432.6 210.5 431 208.5 429.5 205.5 428.9 202.5 428.6 197.5 429 194.4 430.3 190.1 431.7 187.4 434.2 184.4 437.3 182 441.3 180.1 463.5 172.4 474.5 170.7 486.6 169.4 488.6 170 491.6 171.5 492.8 171.3 494.6 169.4 495.5 166.3 495.5 157.3 494.7 152.2 494.7 147.2ZM488.6 212.2L488.1 212.5 489.6 213.3 491 212.5 489.6 211.9 488.6 212.2Z"/>
<path fill-rule="evenodd" fill="#fb2d00" d="M495.7 147.2L525.8 147.2 525.9 166.3 526.3 178.4 526 192.4 524.8 199.5 523.8 201.5 521.8 204 519.7 205.7 516.5 207.5 507.7 210.3 498.6 211.9 491.6 210.1 488.6 209.9 485.9 210.5 481.7 213.5 479.5 214 474.5 213.7 465.5 214.7 451.4 214.9 439.3 212 436.3 210.5 434.3 208.9 432.5 206.5 431.3 203.5 430.7 199.5 430.9 195.4 431.9 191.4 433.3 188.7 435.3 186.3 438.3 184 445.4 180.8 455.4 178.1 465.5 174.8 474.5 173.2 485.6 172 487.6 172 491.6 173.2 493.6 172.5 495.6 169.3 496.2 166.3 495.7 147.2Z"/>
<path fill-rule="evenodd" fill="#ff7100" d="M496.5 147.2L524.2 147.2 524.1 162.3 524.7 177.4 524 190.4 523.4 194.4 522.5 197.5 519.7 201.5 516.7 203.9 513.7 205.5 508.7 207.4 502.7 209 497.6 209.6 490.6 208.8 487.6 208.9 484.8 209.5 479.5 211.7 466.5 212.8 453.4 213.1 449.4 212.7 440.3 210.3 437.3 208.8 435.8 207.5 433.8 204.5 432.9 201.5 432.5 197.5 432.9 194.4 433.9 191.4 435.1 189.4 437.3 187.1 439.9 185.4 447.4 182.1 457.4 180.1 464.5 177.9 472.5 176.1 485.6 174.4 491.6 174.9 493.6 174.2 494.5 173.3 496.4 169.3 497 165.3 496.5 147.2Z"/>
<path fill-rule="evenodd" fill="#fbd600" d="M497.4 147.2L522.2 147.2 522.2 157.3 523.1 177.4 522.4 188.4 521.8 192.4 520.9 195.4 519.7 197.7 517.7 200.1 514.7 202.4 511.7 203.9 506.7 205.8 501.6 207 496.6 207.9 486.6 207.8 478.5 210.1 466.5 211.2 453.4 211.3 449.4 211 441.3 208.8 437.3 206.1 435.5 203.5 434.6 200.5 434.4 197.5 434.8 194.4 435.5 192.4 437.3 189.7 439.3 188 442.3 186.1 446.4 184.4 449.4 183.5 459.4 182.2 484.6 177.2 491.6 176.8 493.6 176.1 494.6 175.3 496.7 171.3 497.8 165.3 497.4 147.2Z"/>
<path fill-rule="evenodd" fill="#bee011" d="M498.3 147.2L520.2 147.2 521.5 173.3 521.3 182.4 520.2 192.4 518.9 195.4 516.7 198.5 513.7 200.8 509.7 202.7 497.6 206.1 494.6 206.5 486.6 206.4 478.5 208.5 466.5 209.7 454.4 209.7 449.4 209.3 442.9 207.5 439.3 205.2 437.3 202.5 436.6 200.5 436.3 197.5 436.7 194.4 437.6 192.4 439.3 190.4 443.9 187.4 447.4 185.9 451.4 185.1 468.5 183.8 474.5 183 480.5 182.8 492.6 178.9 494.6 177.6 496.8 174.3 498.3 168.3 498.8 162.3 498.3 147.2Z"/>
<path fill-rule="evenodd" fill="#9dd93f" d="M499.4 147.2L518.6 147.2 519.4 166.3 520 172.3 519.9 182.4 518.7 191.9 517.6 194.4 515.4 197.5 512.7 199.5 508.7 201.3 496.6 204.5 492.6 204.7 486.6 203.8 478.5 206.7 465.5 208.4 454.4 208.2 449.4 207.7 444.4 206.1 440.8 203.5 439.4 201.5 438.7 199.5 438.6 196.5 439.1 194.4 441.3 191.4 446.4 188.4 451.4 187.1 464.5 186.4 474.5 186.2 482.6 187.4 485 187.4 486.6 186.8 490.3 183.4 494.6 180.2 497.5 176.4 499.2 169.3 499.8 162.3 499.4 147.2Z"/>
<path fill-rule="evenodd" fill="#d0f0b0" d="M500.6 148.2L500.7 147.2 516.8 147.2 517.1 155.2 518.8 173.3 518.8 181.4 518.1 188.4 517.4 191.4 515.9 194.4 514.3 196.5 511.7 198.4 506.7 200.4 495.6 202.7 493.6 202.7 491.6 201.8 490.3 200.5 489.4 198.5 489.3 196.5 492.1 187.4 497.6 179.4 499.1 176.4 501 163.3 500.6 148.2ZM450.1 189.4L454.4 188.8 463.5 188.4 472.5 188.5 476.5 189.1 480.3 190.4 482.8 192.4 484.2 195.4 484.3 198.5 482.7 201.5 480.5 203.4 478.5 204.5 475.1 205.5 463.5 207.1 453.4 206.4 449.4 205.8 445.8 204.5 443.3 202.7 441.8 200.5 441.2 197.5 442 194.4 443.7 192.4 446.4 190.7 450.1 189.4Z"/>
<path fill-rule="evenodd" fill="#f9fbfe" d="M502.2 147.2L513.2 147.2 513.8 148.2 517.5 172.3 517.6 181.4 517 187.4 516.4 190.4 514.9 193.4 513.4 195.4 510.7 197.4 505.7 199 495.6 199.6 494.6 199.4 494.1 198.5 494 195.4 495.3 188.4 500.1 177.4 501 172.3 502.4 161.3 502.2 147.2ZM462.2 190.4L472.5 190.8 475.5 191.4 477.5 192.3 479 193.4 480.1 195.4 480.2 198.5 479.4 200.5 477.1 202.5 474.5 203.6 467.5 205.3 463.5 205.7 454.4 204.7 450.4 203.9 447.1 202.5 445.1 200.5 444.4 198.5 444.5 196.5 445.7 194.4 447.4 193.1 452.4 191.3 462.2 190.4Z"/>
<path fill-rule="evenodd" fill="#e2ecfb" d="M506 149.2L507.7 149.5 510.2 151.2 511.7 153.6 512.7 156.5 514.8 163.3 516.1 170.3 516.6 181.4 515.7 188.4 514.7 191.2 513.4 193.4 511.7 195.2 509.7 196.4 507.7 197.1 504.7 197.5 501.6 197 499.3 195.4 498.2 192.4 497.8 189.4 498.3 186.4 500.9 178.4 502.1 173.3 504.9 157.3 505.3 150.2 505.7 149.3 506 149.2ZM455.1 193.4L463.5 192.5 472.2 193.4 474.5 194.3 475.8 195.4 476.2 196.5 476.2 198.5 475 200.5 473.7 201.5 468.3 203.5 463.5 204.2 458.4 203.5 451.8 201.5 450.2 200.5 448.9 198.5 449.4 196.5 450.3 195.4 452 194.4 455.1 193.4Z"/>
<path fill-rule="evenodd" fill="#bfd5f6" d="M508.4 159.3L509.7 159.1 510.7 159.9 512.7 162.7 513.8 165.3 515.5 175.3 515.5 182.4 514.7 187.8 512.7 192.2 509.7 194.8 507.7 195.6 505.7 195.9 502.7 195.1 501.1 193.4 500.1 190.4 499.9 187.4 505.1 165.3 506.7 161.2 508.4 159.3ZM459.4 195.4L463.5 194.9 467.5 195.4 469.9 196.5 470.8 197.5 471 198.5 470.6 199.5 469.5 200.5 467.5 201.6 464.5 202.5 461.4 202.2 457.6 200.5 456.5 199.5 456 198.5 456.3 197.5 457.3 196.5 459.4 195.4Z"/>
<path fill-rule="evenodd" fill="#6ea0e8" d="M508.9 164.3L510.7 164.5 511.7 165.4 512.8 167.3 514.7 177.4 514.2 184.4 513.2 188.4 511.4 191.4 508.7 193.6 505.7 194.1 503.7 193.2 502.5 191.4 501.7 188.4 501.8 185.4 506.6 167.3 507.7 165.2 508.9 164.3Z"/>
<path fill-rule="evenodd" fill="#2f75e0" d="M508.6 170.3L509.7 169.6 510.7 170.3 512.7 175.2 513.2 178.4 513 184.4 512.6 186.4 510.7 189.6 508.7 191.3 506.7 191.8 505.7 191.5 504.6 190.4 503.9 188.4 503.7 185.4 505.7 177.1 508.6 170.3Z"/>
<path fill-rule="evenodd" fill="#2467d7" d="M509.2 177.4L509.7 177.2 510.7 178.4 511.1 184.4 510.7 185.7 509.7 186.9 508.7 187.5 507.7 187.5 506.7 186 506.7 182.6 507.7 179.3 508.7 177.6 509.2 177.4Z"/>
<path fill="none" stroke="#c8500a" stroke-width="0.7" stroke-opacity="0.9" d="M417.7 224.6L415.4 205.5 415.6 195.4 416.6 187.4 417.8 183.4 421.2 175.3 425.5 169.3 431.2 159.3 434.4 151.2 435.2 147.2"/>
<path fill="none" stroke="#c8500a" stroke-width="0.7" stroke-opacity="0.9" d="M445.5 147.2L445.4 153.2 445.9 158.3 447.4 162 448.4 162.8 449.4 162.9 450.4 162.1 451.4 160.3 452.2 157.3 452.4 152.2 451.4 147.2M461 147.2L460.2 149.2 460 152.2 461.1 155.2 462.4 156.3 463.5 156.2 464.5 155.3 465.3 153.2 465.4 150.2 464.4 147.2M476.5 150.8L475.7 153.2 476.5 154.9 477.5 155.3 479 154.2 479.4 152.2 478.5 150.8 477.5 150.4 476.5 150.8M422.9 224.6L419.6 215.6 418 207.5 417.9 198.5 419.2 189.4 420.9 184.4 423.7 178.4 435.7 162.3 442.4 147.2"/>
<path fill="none" stroke="#c8500a" stroke-width="0.7" stroke-opacity="0.9" d="M491.6 160.8L491.6 162.6 491.6 160.8M430.7 224.6L427.3 221.3 424.3 216.9 421.7 211.5 420.4 206.5 420.2 200.5 421.1 192.4 423.2 186.6 426.3 181.2 430.3 176.3 435.3 171.7 443.3 166.8 444.4 166.6 448.4 167.3 450.4 166.6 454.4 161.8 456.4 160.1 458.4 160 463.5 160.9 470.5 157.5 476.5 159.3 479.5 158.6 481.9 156.2 483.9 152.2 484.2 149.2 483.5 147.2"/>
<path fill="none" stroke="#c8500a" stroke-width="0.7" stroke-opacity="0.9" d="M450.4 224.6L440.3 222.9 436.3 221.3 430.3 217.1 425.4 211.5 423.3 206.5 423 200.5 423.7 193.4 426.1 187.4 430.3 181.1 435.3 176.8 441.3 173.9 449.4 171.1 455.4 167.4 458.4 166.2 468.5 165.2 478.5 163.6 486.6 161.5 487.6 161.9 488.6 163.2 491.2 167.3 492.6 167.8 493.6 166.6 493.9 165.3 493.7 158.3 491.9 153.2 491 147.2M482.1 224.6L472.5 223.2 468.5 223.5 463.2 224.6M513.2 224.6L505.7 223.7 495.6 224.6"/>
<path fill="none" stroke="#ff7d19" stroke-width="0.7" stroke-opacity="0.9" d="M529.7 147.2L529.6 165.3 530.8 187.9M530.8 209.5L529.8 212.5 527.8 215.5 525.8 217 523.8 217.6 507.7 217.8 494.6 220.4 489.6 220.9 483.6 220.7 473.5 219 456.4 220.7 449.4 220 437.3 216.8 431.3 213.1 427.5 208.5 426.4 205.5 426.1 199.5 426.3 195.4 427.4 191.4 428.6 188.4 431.1 184.4 433.3 182 436.3 179.7 457.4 171 462.4 169.5 486.6 166.4 488.6 167.2 491.6 169.7 492.6 169.7 493.6 169 494.6 167 494.9 163.3 494.7 157.3 493.5 152.2 493.3 147.2"/>
<path fill="none" stroke="#ff7d19" stroke-width="0.7" stroke-opacity="0.9" d="M527.7 147.2L528.3 197.5 527.8 201.5 526.8 204.5 524.9 207.5 522.8 209.4 519.7 210.9 515.7 212.1 504.7 214.1 494.4 216.6 486.6 217.4 473.5 215.9 464.5 217 451.4 217.2 438.3 214 435.3 212.6 432.6 210.5 431 208.5 429.5 205.5 428.6 197.5 430.3 190.1 431.7 187.4 434.2 184.4 437.3 182 441.3 180.1 463.5 172.4 474.5 170.7 486.6 169.4 491.6 171.5 492.8 171.3 494.6 169.4 495.5 166.3 495.5 157.3 494.7 152.2 494.7 147.2M488.6 212.2L488.1 212.5 489.6 213.3 491 212.5 489.6 211.9 488.6 212.2"/>
<path fill="none" stroke="#ff7d19" stroke-width="0.7" stroke-opacity="0.9" d="M525.8 147.2L526.3 179.4 525.9 193.4 524.3 200.5 522.2 203.5 519.7 205.7 516.7 207.4 512.7 208.9 501.6 211.6 497.6 211.8 492.6 210.3 488.6 209.9 485.9 210.5 482.6 213.1 480.5 213.9 473.5 213.7 464.5 214.8 453.4 215 449.4 214.6 439.3 212 436.3 210.5 434.3 208.9 432.5 206.5 431.3 203.5 430.7 199.5 430.9 195.4 431.9 191.4 433.3 188.7 435.3 186.3 438.3 184 445.4 180.8 455.4 178.1 465.5 174.8 474.5 173.2 485.6 172 487.6 172 491.6 173.2 493.6 172.5 495.6 169.3 496.2 166.3 495.7 147.2"/>
<path fill="none" stroke="#ffcd32" stroke-width="0.7" stroke-opacity="0.9" d="M524.2 147.2L524.1 162.3 524.7 177.4 523.9 191.4 523.2 195.4 522 198.5 519.7 201.4 516.7 203.9 510.7 206.7 501.6 209.2 497.6 209.6 487.6 208.9 478.5 211.8 465.5 212.9 453.4 213.1 449.4 212.7 440.3 210.3 435.8 207.5 433.8 204.5 432.9 201.5 432.5 197.5 432.9 194.4 433.9 191.4 435.1 189.4 437.3 187.1 439.9 185.4 447.4 182.1 457.4 180.1 464.5 177.9 472.5 176.1 485.6 174.4 491.6 174.9 493.6 174.2 494.5 173.3 496.4 169.3 497 165.3 496.5 147.2"/>
<path fill="none" stroke="#ffcd32" stroke-width="0.7" stroke-opacity="0.9" d="M522.2 147.2L522.2 157.3 523.1 177.4 522.3 189.4 521.6 193.4 520.5 196.5 518.3 199.5 515.7 201.7 509.7 204.7 500.6 207.3 495.6 207.9 487.6 207.7 478.5 210.1 465.5 211.3 449.4 211 441.3 208.8 437.3 206.1 435.5 203.5 434.6 200.5 434.8 194.4 435.5 192.4 437.3 189.7 442.3 186.1 449.4 183.5 459.4 182.2 484.6 177.2 491.6 176.8 494.6 175.3 496.7 171.3 497.8 165.3 497.4 147.2"/>
<path fill="none" stroke="#f5ffd2" stroke-width="0.7" stroke-opacity="0.9" d="M520.2 147.2L521.5 174.3 520.9 188.4 520.2 192.4 518.9 195.4 516.7 198.4 514.7 200.1 507.7 203.5 496.6 206.3 486.6 206.4 478.5 208.5 465.5 209.8 449.4 209.3 442.9 207.5 439.3 205.2 437.3 202.5 436.6 200.5 436.3 197.5 436.7 194.4 437.6 192.4 439.3 190.4 443.9 187.4 447.4 185.9 451.4 185.1 480.5 182.8 492.6 178.9 494.6 177.6 496.8 174.3 498.3 168.3 498.8 162.3 498.3 147.2"/>
<path fill="none" stroke="#f5ffd2" stroke-width="0.7" stroke-opacity="0.9" d="M518.6 147.2L520.1 173.3 519.4 188.4 518.7 191.9 517.6 194.4 515.7 197.1 513.7 198.8 507.7 201.7 496.6 204.5 492.6 204.7 486.6 203.8 478.5 206.7 465.5 208.4 449.4 207.7 444.4 206.1 440.8 203.5 438.7 199.5 438.6 196.5 439.1 194.4 441.3 191.4 446.4 188.4 451.4 187.1 464.5 186.4 474.5 186.2 485 187.4 486.6 186.8 494.6 180.2 497.5 176.4 499.2 169.3 499.8 162.3 499.4 147.2"/>
<path fill="none" stroke="#f5ffd2" stroke-width="0.7" stroke-opacity="0.9" d="M516.8 147.2L517.1 155.2 518.8 173.3 518.7 182.4 517.9 189.4 517 192.4 514.3 196.5 509.7 199.4 496.6 202.5 493.6 202.7 491.6 201.8 490.3 200.5 489.4 198.5 489.3 196.5 492.1 187.4 497.6 179.4 499.1 176.4 501 163.3 500.7 147.2M450.1 189.4L463.5 188.4 472.5 188.5 476.5 189.1 480.3 190.4 482.8 192.4 484.2 195.4 484.3 198.5 482.7 201.5 480.5 203.4 475.1 205.5 463.5 207.1 449.4 205.8 445.8 204.5 443.3 202.7 441.8 200.5 441.2 197.5 442 194.4 443.7 192.4 446.4 190.7 450.1 189.4"/>
<path fill="none" stroke="#8cb4f0" stroke-width="0.7" stroke-opacity="0.9" d="M513.2 147.2L514.4 150.2 517.5 172.3 517.6 181.4 516.4 190.4 513.7 195.1 509.7 197.9 505.7 199 495.6 199.6 494.6 199.4 494.1 198.5 494 195.4 495.3 188.4 500.1 177.4 501 172.3 502.4 161.3 502.2 147.2M462.2 190.4L472.5 190.8 477.5 192.3 479 193.4 480.1 195.4 480.2 198.5 479.4 200.5 477.1 202.5 474.5 203.6 467.5 205.3 463.5 205.7 450.4 203.9 447.1 202.5 445.1 200.5 444.4 198.5 444.5 196.5 445.7 194.4 447.4 193.1 452.4 191.3 462.2 190.4"/>
<path fill="none" stroke="#8cb4f0" stroke-width="0.7" stroke-opacity="0.9" d="M506 149.2L507.7 149.5 510.2 151.2 511.7 153.6 512.7 156.5 514.8 163.3 516.1 170.3 516.6 181.4 515.7 188.4 513.4 193.4 509.7 196.4 504.7 197.5 501.6 197 499.3 195.4 498.2 192.4 497.8 189.4 498.3 186.4 500.9 178.4 502.1 173.3 504.9 157.3 505.3 150.2 506 149.2M455.1 193.4L463.5 192.5 472.2 193.4 474.5 194.3 475.8 195.4 476.2 196.5 476.2 198.5 475 200.5 473.7 201.5 468.3 203.5 463.5 204.2 458.4 203.5 451.8 201.5 450.2 200.5 448.9 198.5 449.4 196.5 450.3 195.4 455.1 193.4"/>
<path fill="none" stroke="#285ac8" stroke-width="0.7" stroke-opacity="0.9" d="M508.4 159.3L509.7 159.1 510.7 159.9 512.7 162.7 513.8 165.3 515.5 175.3 515.5 182.4 514.7 187.8 512.7 192.2 509.7 194.8 505.7 195.9 502.7 195.1 501.1 193.4 500.1 190.4 499.9 187.4 505.1 165.3 506.7 161.2 508.4 159.3M459.4 195.4L463.5 194.9 467.5 195.4 469.9 196.5 470.8 197.5 471 198.5 469.5 200.5 467.5 201.6 464.5 202.5 461.4 202.2 457.6 200.5 456 198.5 456.3 197.5 457.3 196.5 459.4 195.4"/>
<path fill="none" stroke="#285ac8" stroke-width="0.7" stroke-opacity="0.9" d="M508.9 164.3L510.7 164.5 512.8 167.3 514.7 177.4 514.2 184.4 513.2 188.4 511.4 191.4 508.7 193.6 505.7 194.1 503.7 193.2 502.5 191.4 501.7 188.4 501.8 185.4 506.6 167.3 507.7 165.2 508.9 164.3"/>
<path fill="none" stroke="#285ac8" stroke-width="0.7" stroke-opacity="0.9" d="M508.6 170.3L509.7 169.6 510.7 170.3 512.7 175.2 513.2 178.4 513 184.4 512.6 186.4 510.7 189.6 508.7 191.3 506.7 191.8 505.7 191.5 504.6 190.4 503.9 188.4 503.7 185.4 505.7 177.1 508.6 170.3"/>
<path fill="none" stroke="#285ac8" stroke-width="0.7" stroke-opacity="0.9" d="M509.2 177.4L509.7 177.2 510.7 178.4 511.1 184.4 509.7 186.9 507.7 187.5 506.7 186 506.7 182.6 507.7 179.3 509.2 177.4"/>
</g>
<rect x="414.2" y="147.2" width="116.6" height="77.4" fill="none" stroke="#333" stroke-width="0.6"/>
<text x="527.3" y="221.3" font-family="Liberation Sans, sans-serif" font-weight="bold" font-size="9" text-anchor="end" fill="#fff">Pt-SA/CsPbBr<tspan font-size="6.5" dy="2">3</tspan></text>
<text x="414.7" y="233.3" font-family="Liberation Sans, sans-serif" font-weight="bold" font-size="6.8" text-anchor="middle" fill="#111">0</text>
<line x1="414.7" y1="224.6" x2="414.7" y2="226.1" stroke="#444" stroke-width="0.6"/>
<text x="443.2" y="233.3" font-family="Liberation Sans, sans-serif" font-weight="bold" font-size="6.8" text-anchor="middle" fill="#111">4</text>
<line x1="443.2" y1="224.6" x2="443.2" y2="226.1" stroke="#444" stroke-width="0.6"/>
<text x="471.8" y="233.3" font-family="Liberation Sans, sans-serif" font-weight="bold" font-size="6.8" text-anchor="middle" fill="#111">8</text>
<line x1="471.8" y1="224.6" x2="471.8" y2="226.1" stroke="#444" stroke-width="0.6"/>
<text x="500.3" y="233.3" font-family="Liberation Sans, sans-serif" font-weight="bold" font-size="6.8" text-anchor="middle" fill="#111">12</text>
<line x1="500.3" y1="224.6" x2="500.3" y2="226.1" stroke="#444" stroke-width="0.6"/>
<text x="528.8" y="233.3" font-family="Liberation Sans, sans-serif" font-weight="bold" font-size="6.8" text-anchor="middle" fill="#111">16</text>
<line x1="528.8" y1="224.6" x2="528.8" y2="226.1" stroke="#444" stroke-width="0.6"/>
<text x="471.5" y="245.6" font-family="Liberation Sans, sans-serif" font-weight="bold" font-size="10.5" text-anchor="middle" fill="#111"><tspan font-style="italic">k</tspan> (Å<tspan font-size="6.5" dy="-3.5">-1</tspan><tspan dy="3.5">)</tspan></text>
<text x="39" y="150.3" font-family="Liberation Sans, sans-serif" font-weight="bold" font-size="6.6" text-anchor="end" fill="#111">3.0</text>
<text x="39" y="169.5" font-family="Liberation Sans, sans-serif" font-weight="bold" font-size="6.6" text-anchor="end" fill="#111">2.5</text>
<text x="39" y="188.70000000000002" font-family="Liberation Sans, sans-serif" font-weight="bold" font-size="6.6" text-anchor="end" fill="#111">2.0</text>
<text x="39" y="207.9" font-family="Liberation Sans, sans-serif" font-weight="bold" font-size="6.6" text-anchor="end" fill="#111">1.5</text>
<text x="39" y="227.1" font-family="Liberation Sans, sans-serif" font-weight="bold" font-size="6.6" text-anchor="end" fill="#111">1.0</text>
<text transform="translate(26.8 185.5) rotate(-90)" font-family="Liberation Sans, sans-serif" font-weight="bold" font-size="10" text-anchor="middle" fill="#111"><tspan font-style="italic">R</tspan>+ α (Å)</text>
<rect x="533" y="149" width="6" height="76" fill="url(#cb)"/>
<rect x="469.4" y="142.8" width="1.6" height="1.6" fill="#aaa"/><rect x="477.4" y="142.8" width="1.6" height="1.6" fill="#aaa"/>
<line x1="539" y1="223.5" x2="540.5" y2="223.5" stroke="#333" stroke-width="0.6"/>
<text x="541" y="226.4" font-family="Liberation Sans, sans-serif" font-weight="bold" font-size="8" fill="#111">0</text>
<line x1="539" y1="205" x2="540.5" y2="205" stroke="#333" stroke-width="0.6"/>
<text x="541" y="207.9" font-family="Liberation Sans, sans-serif" font-weight="bold" font-size="8" fill="#111">1</text>
<line x1="539" y1="183.6" x2="540.5" y2="183.6" stroke="#333" stroke-width="0.6"/>
<text x="541" y="186.5" font-family="Liberation Sans, sans-serif" font-weight="bold" font-size="8" fill="#111">2</text>
<line x1="539" y1="162.2" x2="540.5" y2="162.2" stroke="#333" stroke-width="0.6"/>
<text x="541" y="165.1" font-family="Liberation Sans, sans-serif" font-weight="bold" font-size="8" fill="#111">3</text>
</svg>
</body></html>
